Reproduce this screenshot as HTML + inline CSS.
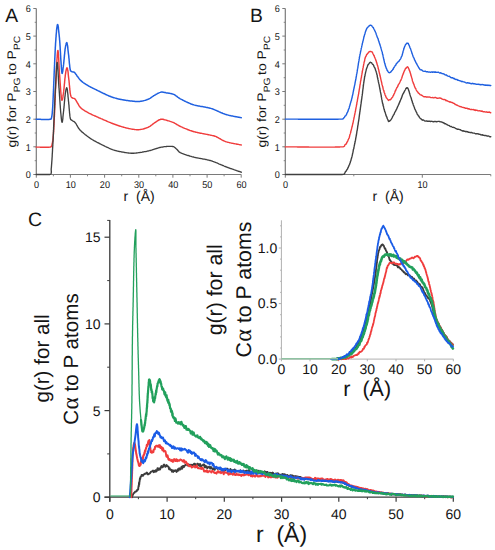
<!DOCTYPE html><html><head><meta charset="utf-8"><style>html,body{margin:0;padding:0;background:#fff;width:495px;height:550px;overflow:hidden}svg{display:block}text{font-family:"Liberation Sans",sans-serif;fill:#141414;text-rendering:geometricPrecision}</style></head><body>
<svg width="495" height="550" viewBox="0 0 495 550">
<rect width="495" height="550" fill="#fff"/>
<line x1="36.3" y1="8.5" x2="36.3" y2="175.1" stroke="#7a7a7a" stroke-width="1.20"/>
<line x1="33.3" y1="174.5" x2="36.3" y2="174.5" stroke="#7a7a7a" stroke-width="1.00"/>
<text transform="translate(30.70,178.30) scale(0.930,1)" font-size="9.80" text-anchor="end" >0</text>
<line x1="33.3" y1="146.8" x2="36.3" y2="146.8" stroke="#7a7a7a" stroke-width="1.00"/>
<text transform="translate(30.70,150.63) scale(0.930,1)" font-size="9.80" text-anchor="end" >1</text>
<line x1="33.3" y1="119.2" x2="36.3" y2="119.2" stroke="#7a7a7a" stroke-width="1.00"/>
<text transform="translate(30.70,122.96) scale(0.930,1)" font-size="9.80" text-anchor="end" >2</text>
<line x1="33.3" y1="91.5" x2="36.3" y2="91.5" stroke="#7a7a7a" stroke-width="1.00"/>
<text transform="translate(30.70,95.29) scale(0.930,1)" font-size="9.80" text-anchor="end" >3</text>
<line x1="33.3" y1="63.8" x2="36.3" y2="63.8" stroke="#7a7a7a" stroke-width="1.00"/>
<text transform="translate(30.70,67.62) scale(0.930,1)" font-size="9.80" text-anchor="end" >4</text>
<line x1="33.3" y1="36.1" x2="36.3" y2="36.1" stroke="#7a7a7a" stroke-width="1.00"/>
<text transform="translate(30.70,39.95) scale(0.930,1)" font-size="9.80" text-anchor="end" >5</text>
<line x1="33.3" y1="8.5" x2="36.3" y2="8.5" stroke="#7a7a7a" stroke-width="1.00"/>
<text transform="translate(30.70,12.28) scale(0.930,1)" font-size="9.80" text-anchor="end" >6</text>
<line x1="34.7" y1="160.7" x2="36.3" y2="160.7" stroke="#7a7a7a" stroke-width="0.90"/>
<line x1="34.7" y1="133.0" x2="36.3" y2="133.0" stroke="#7a7a7a" stroke-width="0.90"/>
<line x1="34.7" y1="105.3" x2="36.3" y2="105.3" stroke="#7a7a7a" stroke-width="0.90"/>
<line x1="34.7" y1="77.7" x2="36.3" y2="77.7" stroke="#7a7a7a" stroke-width="0.90"/>
<line x1="34.7" y1="50.0" x2="36.3" y2="50.0" stroke="#7a7a7a" stroke-width="0.90"/>
<line x1="34.7" y1="22.3" x2="36.3" y2="22.3" stroke="#7a7a7a" stroke-width="0.90"/>
<line x1="35.7" y1="174.5" x2="241.2" y2="174.5" stroke="#7a7a7a" stroke-width="1.20"/>
<line x1="36.3" y1="174.5" x2="36.3" y2="177.7" stroke="#7a7a7a" stroke-width="1.00"/>
<line x1="53.4" y1="174.5" x2="53.4" y2="176.3" stroke="#7a7a7a" stroke-width="0.90"/>
<line x1="70.4" y1="174.5" x2="70.4" y2="177.7" stroke="#7a7a7a" stroke-width="1.00"/>
<line x1="87.5" y1="174.5" x2="87.5" y2="176.3" stroke="#7a7a7a" stroke-width="0.90"/>
<line x1="104.6" y1="174.5" x2="104.6" y2="177.7" stroke="#7a7a7a" stroke-width="1.00"/>
<line x1="121.7" y1="174.5" x2="121.7" y2="176.3" stroke="#7a7a7a" stroke-width="0.90"/>
<line x1="138.8" y1="174.5" x2="138.8" y2="177.7" stroke="#7a7a7a" stroke-width="1.00"/>
<line x1="155.8" y1="174.5" x2="155.8" y2="176.3" stroke="#7a7a7a" stroke-width="0.90"/>
<line x1="172.9" y1="174.5" x2="172.9" y2="177.7" stroke="#7a7a7a" stroke-width="1.00"/>
<line x1="190.0" y1="174.5" x2="190.0" y2="176.3" stroke="#7a7a7a" stroke-width="0.90"/>
<line x1="207.1" y1="174.5" x2="207.1" y2="177.7" stroke="#7a7a7a" stroke-width="1.00"/>
<line x1="224.1" y1="174.5" x2="224.1" y2="176.3" stroke="#7a7a7a" stroke-width="0.90"/>
<line x1="241.2" y1="174.5" x2="241.2" y2="177.7" stroke="#7a7a7a" stroke-width="1.00"/>
<text transform="translate(36.60,187.60) scale(0.930,1)" font-size="9.80" text-anchor="middle" >0</text>
<text transform="translate(70.75,187.60) scale(0.930,1)" font-size="9.80" text-anchor="middle" >10</text>
<text transform="translate(104.90,187.60) scale(0.930,1)" font-size="9.80" text-anchor="middle" >20</text>
<text transform="translate(139.05,187.60) scale(0.930,1)" font-size="9.80" text-anchor="middle" >30</text>
<text transform="translate(173.20,187.60) scale(0.930,1)" font-size="9.80" text-anchor="middle" >40</text>
<text transform="translate(207.35,187.60) scale(0.930,1)" font-size="9.80" text-anchor="middle" >50</text>
<text transform="translate(241.50,187.60) scale(0.930,1)" font-size="9.80" text-anchor="middle" >60</text>
<text x="5.3" y="21.8" font-size="19.30" text-anchor="start" >A</text>
<line x1="285.3" y1="8.5" x2="285.3" y2="175.1" stroke="#7a7a7a" stroke-width="1.20"/>
<line x1="282.3" y1="174.5" x2="285.3" y2="174.5" stroke="#7a7a7a" stroke-width="1.00"/>
<text transform="translate(279.70,178.30) scale(0.930,1)" font-size="9.80" text-anchor="end" >0</text>
<line x1="282.3" y1="146.8" x2="285.3" y2="146.8" stroke="#7a7a7a" stroke-width="1.00"/>
<text transform="translate(279.70,150.63) scale(0.930,1)" font-size="9.80" text-anchor="end" >1</text>
<line x1="282.3" y1="119.2" x2="285.3" y2="119.2" stroke="#7a7a7a" stroke-width="1.00"/>
<text transform="translate(279.70,122.96) scale(0.930,1)" font-size="9.80" text-anchor="end" >2</text>
<line x1="282.3" y1="91.5" x2="285.3" y2="91.5" stroke="#7a7a7a" stroke-width="1.00"/>
<text transform="translate(279.70,95.29) scale(0.930,1)" font-size="9.80" text-anchor="end" >3</text>
<line x1="282.3" y1="63.8" x2="285.3" y2="63.8" stroke="#7a7a7a" stroke-width="1.00"/>
<text transform="translate(279.70,67.62) scale(0.930,1)" font-size="9.80" text-anchor="end" >4</text>
<line x1="282.3" y1="36.1" x2="285.3" y2="36.1" stroke="#7a7a7a" stroke-width="1.00"/>
<text transform="translate(279.70,39.95) scale(0.930,1)" font-size="9.80" text-anchor="end" >5</text>
<line x1="282.3" y1="8.5" x2="285.3" y2="8.5" stroke="#7a7a7a" stroke-width="1.00"/>
<text transform="translate(279.70,12.28) scale(0.930,1)" font-size="9.80" text-anchor="end" >6</text>
<line x1="283.7" y1="160.7" x2="285.3" y2="160.7" stroke="#7a7a7a" stroke-width="0.90"/>
<line x1="283.7" y1="133.0" x2="285.3" y2="133.0" stroke="#7a7a7a" stroke-width="0.90"/>
<line x1="283.7" y1="105.3" x2="285.3" y2="105.3" stroke="#7a7a7a" stroke-width="0.90"/>
<line x1="283.7" y1="77.7" x2="285.3" y2="77.7" stroke="#7a7a7a" stroke-width="0.90"/>
<line x1="283.7" y1="50.0" x2="285.3" y2="50.0" stroke="#7a7a7a" stroke-width="0.90"/>
<line x1="283.7" y1="22.3" x2="285.3" y2="22.3" stroke="#7a7a7a" stroke-width="0.90"/>
<line x1="284.7" y1="174.5" x2="490.8" y2="174.5" stroke="#7a7a7a" stroke-width="1.20"/>
<line x1="285.3" y1="174.5" x2="285.3" y2="177.7" stroke="#7a7a7a" stroke-width="1.00"/>
<line x1="353.8" y1="174.5" x2="353.8" y2="176.3" stroke="#7a7a7a" stroke-width="0.90"/>
<line x1="422.3" y1="174.5" x2="422.3" y2="177.7" stroke="#7a7a7a" stroke-width="1.00"/>
<line x1="490.8" y1="174.5" x2="490.8" y2="176.3" stroke="#7a7a7a" stroke-width="0.90"/>
<text transform="translate(285.60,187.60) scale(0.930,1)" font-size="9.80" text-anchor="middle" >0</text>
<text transform="translate(422.60,187.60) scale(0.930,1)" font-size="9.80" text-anchor="middle" >10</text>
<text x="250.0" y="21.8" font-size="19.30" text-anchor="start" >B</text>
<text transform="translate(16.4,147.6) rotate(-90) scale(1.13,1)" font-size="12.4" text-anchor="start">g(r) for P<tspan font-size="9.1" dy="3.6">PG</tspan><tspan dy="-3.6" dx="-1.2"> to P</tspan><tspan font-size="9.1" dy="3.6">PC</tspan></text>
<text transform="translate(266.2,147.6) rotate(-90) scale(1.13,1)" font-size="12.4" text-anchor="start">g(r) for P<tspan font-size="9.1" dy="3.6">PG</tspan><tspan dy="-3.6" dx="-1.2"> to P</tspan><tspan font-size="9.1" dy="3.6">PC</tspan></text>
<text x="123.6" y="201.3" font-size="14.00" text-anchor="start" >r&#160;&#160;(Å)</text>
<text x="372.6" y="201.3" font-size="14.00" text-anchor="start" >r&#160;&#160;(Å)</text>
<path d="M36.1 147.1L36.8 147.1L37.5 147.1L38.3 147.1L39.0 147.1L39.8 147.1L40.5 147.2L41.2 147.2L42.0 147.2L42.7 147.2L43.5 147.2L44.2 147.2L44.9 147.2L45.7 147.2L46.4 147.2L47.1 147.2L47.7 147.2L48.4 147.2L49.0 147.2L49.6 147.1L50.2 147.1L51.2 146.8L51.5 146.0L51.7 145.5L51.9 144.9L52.0 144.3L52.2 143.7L52.4 143.1L52.5 142.4L52.6 141.7L52.8 140.9L52.9 140.0L53.0 139.0L53.1 138.4L53.1 137.8L53.2 137.2L53.2 136.6L53.3 135.9L53.3 135.3L53.4 134.6L53.4 134.0L53.5 133.3L53.5 132.7L53.6 132.0L53.6 131.3L53.6 130.6L53.7 129.9L53.7 129.2L53.8 128.5L53.8 127.8L53.8 127.0L53.9 126.3L53.9 125.6L54.0 124.8L54.0 124.1L54.0 123.3L54.1 122.6L54.1 121.8L54.1 121.1L54.2 120.3L54.2 119.5L54.3 118.8L54.3 118.0L54.3 117.3L54.4 116.7L54.4 116.0L54.4 115.3L54.5 114.7L54.5 114.0L54.5 113.3L54.6 112.6L54.6 111.9L54.6 111.2L54.6 110.6L54.7 109.9L54.7 109.2L54.7 108.5L54.8 107.8L54.8 107.1L54.8 106.4L54.8 105.6L54.9 104.9L54.9 104.2L54.9 103.5L54.9 102.8L55.0 102.1L55.0 101.3L55.0 100.6L55.1 99.9L55.1 99.2L55.1 98.4L55.2 97.7L55.2 97.0L55.2 96.2L55.2 95.5L55.3 94.8L55.3 94.0L55.3 93.3L55.4 92.5L55.4 91.8L55.4 91.0L55.5 90.3L55.5 89.5L55.6 88.8L55.6 88.0L55.6 87.3L55.7 86.6L55.7 85.9L55.7 85.1L55.8 84.4L55.8 83.6L55.9 82.8L55.9 82.0L55.9 81.1L56.0 80.3L56.0 79.4L56.0 78.6L56.1 77.7L56.1 76.8L56.2 75.9L56.2 75.1L56.3 74.2L56.3 73.3L56.3 72.4L56.4 71.5L56.4 70.6L56.5 69.7L56.5 68.8L56.5 67.9L56.6 67.0L56.6 66.2L56.7 65.3L56.7 64.5L56.8 63.6L56.8 62.8L56.8 62.0L56.9 61.2L56.9 60.5L57.0 59.7L57.0 59.0L57.1 58.3L57.1 57.6L57.2 56.9L57.2 56.3L57.2 55.6L57.3 55.0L57.3 54.5L57.4 54.0L57.4 53.5L57.5 53.0L57.5 52.6L57.5 52.2L57.6 51.8L57.6 51.5L57.7 51.2L57.7 51.0L57.8 50.8L57.8 50.6L57.9 50.5L57.9 50.5L58.0 50.5L58.0 50.7L58.1 51.0L58.1 51.3L58.2 51.7L58.2 52.2L58.3 52.8L58.3 53.4L58.4 54.1L58.4 54.9L58.5 55.6L58.5 56.5L58.6 57.3L58.7 58.3L58.7 59.2L58.8 60.2L58.8 61.1L58.9 62.1L58.9 63.1L59.0 64.2L59.0 65.2L59.1 66.2L59.1 67.2L59.2 68.2L59.2 69.1L59.3 70.1L59.3 71.0L59.4 71.9L59.4 72.7L59.5 73.5L59.5 74.3L59.6 75.0L59.7 75.8L59.7 76.5L59.8 77.3L59.8 78.0L59.9 78.8L59.9 79.5L60.0 80.3L60.0 81.0L60.1 81.8L60.1 82.5L60.2 83.2L60.2 84.0L60.3 84.7L60.3 85.4L60.4 86.1L60.4 86.8L60.5 87.5L60.5 88.2L60.6 88.9L60.6 89.6L60.7 90.2L60.7 90.9L60.8 91.5L60.8 92.2L60.9 92.8L60.9 93.4L61.0 94.0L61.1 95.0L61.2 96.1L61.3 97.1L61.5 98.0L61.6 98.8L61.7 99.5L61.8 100.0L62.0 100.3L62.1 100.3L62.2 100.1L62.3 99.8L62.5 99.4L62.6 98.8L62.7 98.1L62.9 97.4L63.0 96.5L63.1 95.7L63.2 94.7L63.4 93.8L63.5 92.9L63.6 92.0L63.7 91.4L63.8 90.7L63.8 90.0L63.9 89.3L64.0 88.6L64.1 87.9L64.1 87.1L64.2 86.4L64.3 85.6L64.3 84.9L64.4 84.1L64.5 83.3L64.6 82.6L64.6 81.8L64.7 81.0L64.8 80.3L64.8 79.5L64.9 78.8L65.0 78.0L65.1 77.3L65.2 76.6L65.2 75.9L65.3 75.3L65.4 74.6L65.5 74.0L65.7 73.0L65.8 71.9L66.0 70.9L66.2 70.0L66.4 69.1L66.6 68.4L66.8 68.0L67.0 67.8L67.2 67.9L67.3 68.2L67.4 68.5L67.5 69.0L67.6 69.5L67.8 70.2L67.9 70.9L68.0 71.6L68.1 72.4L68.2 73.2L68.2 74.1L68.3 75.0L68.4 75.8L68.5 76.7L68.6 77.6L68.7 78.4L68.8 79.2L68.9 80.0L69.0 80.7L69.1 81.4L69.1 82.1L69.2 82.8L69.3 83.5L69.3 84.3L69.4 85.0L69.5 85.8L69.6 86.5L69.6 87.2L69.7 88.0L69.8 88.7L69.8 89.4L69.9 90.1L70.0 90.8L70.1 91.5L70.1 92.2L70.2 92.8L70.3 93.4L70.4 94.0L70.6 95.1L70.8 95.9L71.1 96.6L71.4 97.1L71.8 97.6L72.4 98.0L73.2 98.2L74.1 98.4L74.8 98.8L75.2 99.3L75.6 99.8L76.0 100.4L76.4 101.1L76.7 101.7L77.1 102.4L77.5 103.0L77.9 103.6L78.2 104.2L78.6 104.9L78.9 105.5L79.3 106.1L79.8 106.7L80.2 107.3L80.8 107.9L81.3 108.3L81.8 108.8L82.4 109.2L83.0 109.6L83.6 110.0L84.2 110.4L84.8 110.8L85.4 111.1L86.1 111.5L86.7 111.9L87.4 112.2L88.0 112.6L88.6 112.9L89.2 113.3L89.9 113.6L90.5 113.9L91.1 114.2L91.7 114.5L92.4 114.8L93.0 115.1L93.7 115.4L94.4 115.7L95.2 116.0L96.0 116.4L96.6 116.7L97.2 116.9L97.8 117.2L98.4 117.5L99.1 117.8L99.7 118.1L100.4 118.3L101.0 118.6L101.7 118.9L102.4 119.2L103.0 119.5L103.7 119.8L104.4 120.1L105.1 120.4L105.8 120.7L106.5 121.0L107.2 121.3L107.8 121.6L108.5 121.9L109.2 122.2L109.8 122.4L110.5 122.7L111.2 123.0L111.8 123.2L112.5 123.5L113.2 123.8L113.9 124.0L114.6 124.3L115.3 124.5L116.0 124.8L116.7 125.0L117.4 125.3L118.1 125.5L118.8 125.8L119.5 126.0L120.2 126.2L120.9 126.4L121.5 126.6L122.2 126.9L122.9 127.0L123.6 127.2L124.3 127.4L125.0 127.6L125.7 127.8L126.4 128.0L127.2 128.1L127.9 128.3L128.6 128.5L129.4 128.6L130.1 128.8L130.9 128.9L131.6 129.1L132.3 129.2L133.1 129.3L133.8 129.4L134.5 129.5L135.2 129.6L135.9 129.6L136.6 129.7L137.3 129.7L138.0 129.7L138.8 129.7L139.5 129.6L140.3 129.5L141.0 129.4L141.8 129.3L142.5 129.1L143.2 129.0L144.0 128.8L144.7 128.5L145.3 128.3L146.0 128.1L146.7 127.8L147.4 127.6L148.0 127.3L148.7 127.0L149.3 126.6L149.9 126.3L150.5 125.9L151.1 125.4L151.7 125.0L152.2 124.6L152.8 124.1L153.3 123.7L153.9 123.3L154.4 122.9L155.0 122.5L155.7 122.1L156.3 121.6L157.0 121.2L157.6 120.8L158.2 120.4L158.9 120.0L159.5 119.7L160.2 119.5L160.8 119.3L161.5 119.2L162.3 119.2L163.0 119.3L163.7 119.5L164.4 119.7L165.2 119.9L166.0 120.1L166.7 120.3L167.3 120.5L168.0 120.7L168.8 120.9L169.5 121.1L170.2 121.4L170.9 121.6L171.6 121.9L172.3 122.1L173.0 122.4L173.7 122.7L174.4 123.0L175.0 123.4L175.6 123.7L176.2 124.1L176.8 124.5L177.5 124.9L178.1 125.2L178.8 125.6L179.5 126.0L180.3 126.4L180.9 126.7L181.5 126.9L182.1 127.2L182.8 127.5L183.4 127.8L184.1 128.1L184.7 128.4L185.4 128.6L186.1 128.9L186.8 129.2L187.5 129.5L188.2 129.8L188.9 130.0L189.6 130.3L190.3 130.6L191.1 130.8L191.8 131.0L192.5 131.3L193.3 131.5L194.0 131.7L194.6 131.9L195.3 132.0L196.0 132.2L196.7 132.4L197.4 132.5L198.2 132.7L198.9 132.9L199.6 133.0L200.4 133.2L201.1 133.3L201.9 133.4L202.6 133.6L203.3 133.7L204.1 133.9L204.8 134.0L205.5 134.1L206.2 134.3L206.9 134.4L207.6 134.5L208.3 134.7L208.9 134.8L209.6 134.9L210.2 135.1L210.8 135.2L211.7 135.4L212.5 135.6L213.2 135.7L213.7 135.8L214.3 136.0L214.9 136.2L215.5 136.4L216.2 136.7L216.8 137.0L217.4 137.3L218.0 137.6L218.6 137.9L219.2 138.3L219.8 138.6L220.5 139.0L221.1 139.4L221.8 139.8L222.4 140.1L223.1 140.5L223.8 140.8L224.5 141.1L225.2 141.4L226.0 141.7L226.6 141.9L227.3 142.1L227.9 142.3L228.6 142.4L229.3 142.6L229.9 142.8L230.6 142.9L231.3 143.1L232.0 143.2L232.7 143.4L233.4 143.5L234.2 143.6L234.9 143.8L235.6 143.9L236.3 144.0L237.0 144.2L237.8 144.3L238.5 144.4L239.2 144.6L239.9 144.7L240.6 144.9L241.3 145.0" fill="none" stroke="#f03c3c" stroke-width="1.45" stroke-linejoin="round" stroke-linecap="round" opacity="1.00"/>
<path d="M36.1 119.3L36.8 119.3L37.5 119.3L38.3 119.3L39.0 119.3L39.8 119.3L40.5 119.3L41.3 119.4L42.0 119.4L42.8 119.4L43.5 119.4L44.3 119.4L45.0 119.4L45.7 119.4L46.4 119.4L47.1 119.4L47.8 119.4L48.5 119.4L49.1 119.4L49.7 119.3L50.3 119.3L51.2 119.1L51.4 118.3L51.5 117.7L51.7 117.1L51.8 116.4L51.9 115.8L52.0 115.1L52.1 114.4L52.2 113.6L52.3 112.8L52.3 111.9L52.4 111.0L52.5 110.0L52.5 109.4L52.6 108.7L52.6 108.1L52.7 107.4L52.7 106.8L52.8 106.1L52.8 105.4L52.8 104.7L52.9 104.0L52.9 103.3L52.9 102.6L53.0 101.9L53.0 101.1L53.0 100.4L53.1 99.7L53.1 98.9L53.1 98.2L53.2 97.4L53.2 96.7L53.2 96.0L53.3 95.2L53.3 94.5L53.3 93.7L53.4 93.0L53.4 92.2L53.4 91.5L53.5 90.7L53.5 90.0L53.5 89.3L53.6 88.6L53.6 87.9L53.6 87.2L53.6 86.5L53.7 85.9L53.7 85.2L53.7 84.5L53.8 83.8L53.8 83.1L53.8 82.4L53.8 81.7L53.9 81.0L53.9 80.3L53.9 79.6L53.9 78.9L54.0 78.2L54.0 77.5L54.0 76.8L54.1 76.1L54.1 75.4L54.1 74.6L54.1 73.9L54.2 73.2L54.2 72.5L54.2 71.7L54.3 71.0L54.3 70.3L54.3 69.5L54.4 68.8L54.4 68.0L54.4 67.3L54.5 66.7L54.5 66.0L54.5 65.3L54.6 64.6L54.6 63.9L54.6 63.2L54.6 62.5L54.7 61.8L54.7 61.1L54.7 60.3L54.8 59.6L54.8 58.9L54.8 58.2L54.9 57.4L54.9 56.7L54.9 56.0L55.0 55.3L55.0 54.5L55.0 53.8L55.1 53.1L55.1 52.3L55.1 51.6L55.2 50.9L55.2 50.2L55.2 49.5L55.3 48.7L55.3 48.0L55.3 47.3L55.4 46.6L55.4 45.9L55.5 45.3L55.5 44.6L55.5 43.9L55.6 43.2L55.6 42.6L55.7 41.9L55.7 41.3L55.8 40.6L55.8 40.0L55.9 39.1L55.9 38.2L56.0 37.3L56.1 36.4L56.1 35.4L56.2 34.5L56.3 33.5L56.4 32.6L56.5 31.7L56.5 30.8L56.6 29.9L56.7 29.1L56.8 28.3L56.9 27.6L57.0 26.9L57.1 26.3L57.2 25.8L57.2 25.3L57.3 25.0L57.4 24.7L57.5 24.6L57.6 24.5L57.7 24.6L57.8 24.7L57.9 25.0L58.0 25.4L58.1 25.9L58.2 26.4L58.3 27.0L58.4 27.7L58.4 28.5L58.5 29.3L58.6 30.1L58.7 31.0L58.8 31.9L58.9 32.8L59.0 33.8L59.1 34.7L59.2 35.6L59.3 36.6L59.4 37.5L59.5 38.4L59.5 39.2L59.6 40.0L59.7 40.7L59.7 41.3L59.8 42.0L59.8 42.7L59.9 43.4L59.9 44.1L60.0 44.8L60.0 45.6L60.1 46.3L60.1 47.0L60.2 47.8L60.2 48.5L60.2 49.3L60.3 50.0L60.3 50.7L60.4 51.5L60.4 52.2L60.5 53.0L60.5 53.7L60.5 54.4L60.6 55.2L60.6 55.9L60.7 56.6L60.7 57.3L60.7 58.0L60.8 58.7L60.8 59.4L60.9 60.1L60.9 60.7L61.0 61.4L61.0 62.0L61.1 62.9L61.1 63.8L61.2 64.8L61.3 65.7L61.3 66.6L61.4 67.6L61.4 68.5L61.5 69.3L61.6 70.1L61.6 70.9L61.7 71.5L61.8 72.1L61.9 72.6L61.9 73.0L62.0 73.3L62.1 73.5L62.2 73.5L62.3 73.3L62.4 72.9L62.5 72.3L62.7 71.6L62.8 70.7L62.9 69.8L63.0 68.9L63.1 67.9L63.3 66.9L63.4 65.9L63.5 65.0L63.6 64.4L63.7 63.7L63.7 63.0L63.8 62.3L63.9 61.6L63.9 60.9L64.0 60.2L64.1 59.4L64.2 58.7L64.2 57.9L64.3 57.2L64.4 56.4L64.4 55.7L64.5 54.9L64.6 54.2L64.7 53.4L64.7 52.7L64.8 52.0L64.9 51.2L65.0 50.6L65.0 49.9L65.1 49.2L65.2 48.6L65.3 48.0L65.5 46.8L65.7 45.6L66.0 44.5L66.2 43.5L66.5 42.9L66.7 42.6L66.9 42.7L67.0 43.0L67.1 43.4L67.2 43.9L67.3 44.5L67.4 45.1L67.6 45.8L67.7 46.6L67.8 47.4L67.8 48.2L67.9 49.0L68.0 49.9L68.1 50.8L68.2 51.7L68.3 52.6L68.4 53.4L68.5 54.2L68.6 55.0L68.7 55.7L68.8 56.4L68.8 57.2L68.9 57.9L69.0 58.7L69.1 59.4L69.1 60.2L69.2 61.0L69.3 61.8L69.3 62.5L69.4 63.3L69.5 64.0L69.6 64.8L69.7 65.5L69.7 66.2L69.8 66.9L69.9 67.6L70.0 68.3L70.1 68.9L70.2 69.5L70.5 70.7L71.0 71.2L71.6 71.6L72.2 71.8L73.0 71.9L73.7 72.0L74.4 72.4L74.9 72.8L75.3 73.4L75.7 74.0L76.2 74.6L76.6 75.2L77.0 75.9L77.5 76.5L78.0 77.1L78.4 77.7L78.9 78.3L79.3 78.9L79.8 79.5L80.4 80.1L80.9 80.7L81.5 81.2L82.0 81.6L82.6 82.1L83.1 82.5L83.7 82.9L84.3 83.3L84.9 83.7L85.5 84.1L86.1 84.5L86.7 84.8L87.4 85.2L88.0 85.6L88.6 86.0L89.2 86.3L89.8 86.6L90.4 87.0L91.1 87.3L91.7 87.6L92.3 87.9L93.0 88.3L93.7 88.6L94.4 88.9L95.2 89.3L96.0 89.7L96.6 90.0L97.2 90.3L97.8 90.6L98.4 90.9L99.1 91.2L99.7 91.5L100.3 91.8L101.0 92.2L101.7 92.5L102.3 92.8L103.0 93.2L103.7 93.5L104.4 93.8L105.1 94.1L105.8 94.5L106.4 94.8L107.1 95.1L107.8 95.4L108.5 95.7L109.2 96.0L109.8 96.2L110.5 96.5L111.2 96.8L111.8 97.0L112.5 97.3L113.2 97.5L113.9 97.7L114.6 97.9L115.3 98.1L116.0 98.3L116.7 98.5L117.4 98.7L118.1 98.9L118.8 99.0L119.4 99.2L120.1 99.3L120.8 99.5L121.5 99.6L122.2 99.7L122.9 99.8L123.6 100.0L124.3 100.1L125.0 100.2L125.7 100.3L126.4 100.4L127.1 100.5L127.8 100.6L128.5 100.7L129.2 100.8L130.0 100.9L130.7 101.0L131.4 101.1L132.1 101.1L132.8 101.2L133.6 101.3L134.3 101.3L135.0 101.4L135.7 101.4L136.4 101.4L137.0 101.4L137.7 101.4L138.4 101.4L139.0 101.4L139.8 101.4L140.5 101.3L141.3 101.2L142.0 101.1L142.7 100.9L143.4 100.8L144.1 100.6L144.8 100.4L145.4 100.2L146.1 100.0L146.7 99.8L147.4 99.5L148.0 99.3L148.7 99.0L149.4 98.6L150.0 98.3L150.7 97.9L151.3 97.4L151.9 97.0L152.5 96.6L153.2 96.2L153.8 95.7L154.4 95.4L155.0 95.0L155.7 94.6L156.3 94.2L157.0 93.9L157.6 93.5L158.2 93.2L158.9 92.9L159.5 92.6L160.2 92.4L160.8 92.2L161.5 92.1L162.3 92.1L163.0 92.2L163.7 92.3L164.4 92.5L165.2 92.6L166.0 92.8L166.7 92.9L167.3 93.0L168.0 93.1L168.8 93.2L169.5 93.3L170.2 93.4L170.9 93.6L171.6 93.7L172.4 93.9L173.0 94.1L173.7 94.4L174.3 94.7L174.9 95.0L175.5 95.4L176.0 95.8L176.6 96.2L177.1 96.6L177.7 97.1L178.3 97.5L178.9 98.0L179.6 98.4L180.3 98.8L180.9 99.1L181.4 99.4L182.0 99.7L182.6 100.0L183.2 100.3L183.9 100.7L184.5 101.0L185.1 101.3L185.8 101.6L186.4 101.9L187.1 102.2L187.7 102.5L188.4 102.8L189.1 103.1L189.8 103.4L190.5 103.7L191.2 104.0L191.9 104.2L192.6 104.5L193.3 104.7L193.9 104.9L194.6 105.1L195.3 105.3L196.0 105.4L196.6 105.6L197.3 105.7L198.0 105.9L198.7 106.0L199.5 106.1L200.2 106.3L200.9 106.4L201.6 106.5L202.3 106.6L203.1 106.7L203.8 106.9L204.5 107.0L205.2 107.1L205.9 107.3L206.6 107.4L207.4 107.5L208.1 107.7L208.8 107.9L209.4 108.0L210.1 108.2L210.8 108.4L211.5 108.6L212.2 108.8L212.9 109.1L213.5 109.3L214.2 109.6L214.9 109.9L215.5 110.2L216.2 110.4L216.8 110.7L217.5 111.0L218.1 111.3L218.8 111.6L219.4 111.9L220.1 112.2L220.7 112.5L221.4 112.8L222.0 113.0L222.7 113.3L223.3 113.6L224.0 113.8L224.7 114.1L225.3 114.3L226.0 114.5L226.7 114.7L227.4 114.9L228.1 115.1L228.8 115.3L229.4 115.4L230.1 115.6L230.8 115.7L231.5 115.9L232.2 116.0L232.9 116.1L233.6 116.3L234.3 116.4L235.0 116.5L235.7 116.7L236.4 116.8L237.1 116.9L237.8 117.0L238.5 117.2L239.2 117.3L239.9 117.4L240.6 117.6L241.3 117.7" fill="none" stroke="#1f60e0" stroke-width="1.50" stroke-linejoin="round" stroke-linecap="round" opacity="1.00"/>
<path d="M36.1 174.5L36.8 174.5L37.6 174.5L38.4 174.5L39.2 174.5L40.0 174.5L40.8 174.5L41.6 174.5L42.5 174.5L43.3 174.5L44.1 174.5L44.8 174.5L45.6 174.5L46.3 174.5L47.0 174.5L47.7 174.5L48.4 174.5L49.0 174.5L49.5 174.5L50.0 174.5L50.6 174.2L51.0 173.7L51.2 173.2L51.3 172.6L51.3 171.8L51.3 171.0L51.2 170.1L51.2 169.1L51.3 168.0L51.4 167.4L51.4 166.8L51.5 166.2L51.5 165.5L51.6 164.9L51.6 164.2L51.7 163.5L51.7 162.9L51.8 162.2L51.8 161.5L51.9 160.8L51.9 160.1L52.0 159.4L52.0 158.7L52.1 157.9L52.1 157.2L52.2 156.5L52.2 155.7L52.2 155.0L52.3 154.2L52.3 153.5L52.4 152.7L52.4 151.9L52.5 151.2L52.5 150.4L52.5 149.6L52.6 148.9L52.6 148.1L52.7 147.3L52.7 146.5L52.8 145.8L52.8 145.0L52.8 144.3L52.9 143.6L52.9 143.0L52.9 142.3L53.0 141.6L53.0 140.9L53.1 140.2L53.1 139.5L53.1 138.8L53.2 138.1L53.2 137.4L53.2 136.7L53.3 136.0L53.3 135.3L53.3 134.5L53.4 133.8L53.4 133.1L53.4 132.4L53.5 131.7L53.5 130.9L53.5 130.2L53.6 129.5L53.6 128.8L53.6 128.0L53.6 127.3L53.7 126.6L53.7 125.9L53.7 125.1L53.8 124.4L53.8 123.7L53.8 122.9L53.9 122.2L53.9 121.5L53.9 120.8L54.0 120.0L54.0 119.3L54.0 118.6L54.1 117.9L54.1 117.2L54.1 116.4L54.2 115.7L54.2 115.0L54.2 114.3L54.3 113.6L54.3 112.8L54.3 112.1L54.4 111.4L54.4 110.7L54.4 110.0L54.5 109.2L54.5 108.5L54.5 107.8L54.6 107.0L54.6 106.3L54.6 105.6L54.7 104.9L54.7 104.1L54.7 103.4L54.7 102.7L54.8 101.9L54.8 101.2L54.8 100.5L54.9 99.8L54.9 99.0L54.9 98.3L55.0 97.6L55.0 96.9L55.0 96.2L55.1 95.4L55.1 94.7L55.1 94.0L55.2 93.3L55.2 92.6L55.2 91.9L55.3 91.2L55.3 90.5L55.3 89.8L55.4 89.1L55.4 88.4L55.5 87.7L55.5 87.0L55.5 86.3L55.6 85.7L55.6 85.0L55.6 84.2L55.7 83.4L55.7 82.5L55.8 81.7L55.8 80.8L55.9 79.8L55.9 78.9L56.0 78.0L56.0 77.0L56.1 76.0L56.1 75.1L56.2 74.1L56.2 73.2L56.3 72.3L56.3 71.4L56.4 70.5L56.4 69.6L56.5 68.8L56.5 68.0L56.6 67.2L56.6 66.5L56.7 65.8L56.7 65.2L56.8 64.6L56.8 64.1L56.9 63.6L56.9 63.2L57.0 62.9L57.0 62.7L57.1 62.5L57.1 62.4L57.2 62.4L57.2 62.5L57.3 62.6L57.3 62.9L57.4 63.1L57.4 63.5L57.5 63.9L57.5 64.3L57.6 64.9L57.6 65.4L57.7 66.0L57.7 66.7L57.8 67.4L57.8 68.1L57.9 68.9L57.9 69.7L58.0 70.5L58.0 71.3L58.1 72.2L58.1 73.1L58.2 74.0L58.2 74.9L58.3 75.8L58.3 76.8L58.4 77.7L58.4 78.6L58.5 79.6L58.5 80.5L58.6 81.4L58.6 82.3L58.7 83.2L58.7 84.1L58.8 84.9L58.8 85.7L58.9 86.5L58.9 87.3L59.0 88.0L59.1 88.7L59.1 89.4L59.2 90.2L59.2 90.9L59.3 91.7L59.3 92.4L59.4 93.1L59.4 93.9L59.5 94.6L59.5 95.4L59.6 96.1L59.6 96.9L59.7 97.6L59.7 98.4L59.8 99.1L59.8 99.9L59.9 100.6L59.9 101.4L60.0 102.1L60.0 102.8L60.1 103.6L60.1 104.3L60.2 105.0L60.2 105.7L60.3 106.4L60.3 107.1L60.4 107.8L60.4 108.5L60.5 109.2L60.5 109.8L60.6 110.5L60.6 111.1L60.7 111.8L60.7 112.4L60.8 113.0L60.9 114.0L61.0 115.0L61.1 116.1L61.2 117.1L61.3 118.1L61.4 119.0L61.5 119.8L61.6 120.6L61.7 121.2L61.8 121.7L61.9 122.1L62.0 122.3L62.1 122.3L62.2 122.2L62.3 121.9L62.4 121.5L62.5 121.0L62.6 120.4L62.7 119.7L62.8 119.0L62.9 118.1L62.9 117.3L63.0 116.4L63.1 115.5L63.2 114.5L63.3 113.6L63.4 112.7L63.5 111.8L63.6 111.0L63.7 110.3L63.7 109.7L63.8 109.0L63.9 108.2L64.0 107.5L64.0 106.8L64.1 106.0L64.2 105.3L64.2 104.5L64.3 103.7L64.4 103.0L64.4 102.2L64.5 101.4L64.6 100.7L64.6 99.9L64.7 99.2L64.8 98.4L64.8 97.7L64.9 97.0L65.0 96.3L65.1 95.6L65.2 94.9L65.2 94.2L65.3 93.6L65.4 93.0L65.6 91.8L65.8 90.6L66.0 89.5L66.3 88.6L66.5 87.9L66.7 87.7L66.9 87.9L67.0 88.2L67.1 88.6L67.2 89.1L67.3 89.6L67.4 90.2L67.5 90.8L67.5 91.5L67.6 92.3L67.7 93.0L67.8 93.8L67.9 94.6L68.0 95.5L68.0 96.3L68.1 97.1L68.2 98.0L68.3 98.8L68.4 99.7L68.4 100.5L68.5 101.2L68.6 102.0L68.7 102.7L68.7 103.4L68.8 104.1L68.9 104.9L69.0 105.6L69.0 106.4L69.1 107.1L69.1 107.9L69.2 108.7L69.3 109.4L69.3 110.2L69.4 111.0L69.5 111.7L69.5 112.5L69.6 113.2L69.7 113.9L69.8 114.6L69.8 115.3L69.9 116.0L70.0 116.7L70.1 117.3L70.2 117.9L70.3 118.5L70.7 119.6L71.3 119.9L72.0 120.3L72.5 120.7L73.1 121.1L73.7 121.4L74.3 121.8L74.8 122.3L75.4 122.9L75.8 123.4L76.1 123.9L76.5 124.5L76.8 125.1L77.2 125.8L77.5 126.4L77.9 127.0L78.2 127.7L78.6 128.3L79.1 128.9L79.6 129.5L80.0 130.0L80.5 130.5L81.0 130.9L81.5 131.4L82.0 131.9L82.5 132.4L83.1 132.8L83.6 133.3L84.2 133.8L84.8 134.2L85.3 134.7L85.9 135.1L86.5 135.6L87.0 136.0L87.6 136.4L88.1 136.8L88.7 137.2L89.3 137.6L89.8 138.0L90.4 138.4L90.9 138.8L91.5 139.1L92.1 139.5L92.7 139.8L93.3 140.2L93.9 140.6L94.6 140.9L95.3 141.3L96.0 141.7L96.6 142.0L97.1 142.3L97.7 142.6L98.3 142.9L98.9 143.2L99.6 143.6L100.2 143.9L100.8 144.2L101.5 144.5L102.1 144.9L102.8 145.2L103.5 145.5L104.1 145.8L104.8 146.2L105.4 146.5L106.1 146.8L106.8 147.1L107.4 147.4L108.1 147.7L108.7 148.0L109.4 148.3L110.0 148.6L110.6 148.8L111.2 149.1L111.8 149.3L112.5 149.6L113.3 149.9L114.0 150.1L114.7 150.3L115.3 150.5L116.0 150.7L116.7 150.9L117.3 151.1L118.0 151.2L118.6 151.4L119.3 151.5L119.9 151.6L120.6 151.7L121.3 151.9L122.0 152.0L122.7 152.1L123.4 152.2L124.1 152.4L124.8 152.5L125.5 152.6L126.2 152.7L126.9 152.8L127.7 152.9L128.4 153.0L129.1 153.1L129.8 153.1L130.6 153.2L131.3 153.2L132.1 153.2L132.8 153.2L133.6 153.2L134.3 153.2L135.0 153.1L135.7 153.1L136.4 153.0L137.1 152.9L137.8 152.8L138.6 152.7L139.3 152.6L140.0 152.5L140.7 152.4L141.5 152.3L142.2 152.2L142.9 152.0L143.7 151.9L144.4 151.7L145.1 151.6L145.9 151.5L146.6 151.3L147.3 151.2L148.0 151.0L148.7 150.8L149.4 150.7L150.1 150.5L150.8 150.3L151.5 150.1L152.2 149.9L153.0 149.6L153.7 149.4L154.4 149.2L155.1 149.0L155.8 148.7L156.5 148.5L157.2 148.3L157.8 148.1L158.5 147.9L159.2 147.7L159.9 147.5L160.6 147.4L161.2 147.2L161.9 147.1L162.7 147.0L163.4 146.8L164.2 146.7L165.0 146.6L165.7 146.6L166.5 146.5L167.2 146.4L167.9 146.4L168.7 146.3L169.4 146.3L170.1 146.3L170.7 146.3L171.4 146.4L172.0 146.4L172.6 146.5L173.5 146.7L174.2 147.0L174.8 147.5L175.4 148.0L175.9 148.5L176.5 149.0L177.0 149.5L177.5 150.0L177.9 150.5L178.3 151.1L178.8 151.6L179.5 152.1L180.3 152.6L180.9 152.9L181.4 153.1L182.0 153.4L182.7 153.6L183.3 153.9L183.9 154.1L184.6 154.4L185.3 154.6L186.0 154.8L186.7 155.1L187.4 155.3L188.1 155.5L188.8 155.7L189.6 156.0L190.3 156.2L191.1 156.4L191.8 156.6L192.6 156.8L193.3 157.0L194.0 157.2L194.6 157.3L195.3 157.5L196.0 157.6L196.7 157.8L197.4 157.9L198.1 158.1L198.8 158.2L199.5 158.3L200.2 158.4L200.9 158.6L201.6 158.7L202.4 158.8L203.1 159.0L203.8 159.1L204.5 159.2L205.2 159.4L205.9 159.5L206.7 159.7L207.4 159.8L208.1 160.0L208.8 160.1L209.4 160.3L210.1 160.5L210.8 160.7L211.5 160.9L212.2 161.1L212.9 161.4L213.5 161.6L214.2 161.9L214.9 162.1L215.5 162.4L216.2 162.7L216.9 162.9L217.5 163.2L218.2 163.5L218.8 163.8L219.5 164.1L220.1 164.3L220.8 164.6L221.4 164.9L222.1 165.2L222.7 165.5L223.4 165.7L224.0 166.0L224.7 166.3L225.3 166.5L226.0 166.8L226.7 167.0L227.3 167.3L228.0 167.5L228.7 167.8L229.3 168.0L230.0 168.3L230.6 168.5L231.3 168.7L232.0 169.0L232.6 169.2L233.3 169.4L234.0 169.7L234.6 169.9L235.3 170.1L236.0 170.3L236.6 170.6L237.3 170.8L238.0 171.0L238.6 171.3L239.3 171.5L240.0 171.7L240.6 172.0L241.3 172.2" fill="none" stroke="#404040" stroke-width="1.35" stroke-linejoin="round" stroke-linecap="round" opacity="1.00"/>
<path d="M285.3 174.5L286.0 174.5L286.7 174.5L287.4 174.5L288.1 174.5L288.9 174.5L289.6 174.5L290.3 174.5L291.0 174.5L291.8 174.5L292.5 174.5L293.2 174.5L293.9 174.5L294.7 174.5L295.4 174.5L296.2 174.5L296.9 174.5L297.6 174.5L298.4 174.5L299.1 174.5L299.8 174.5L300.6 174.5L301.3 174.5L302.1 174.5L302.8 174.5L303.6 174.5L304.3 174.5L305.1 174.5L305.8 174.5L306.5 174.5L307.3 174.5L308.0 174.5L308.8 174.5L309.5 174.5L310.3 174.5L311.0 174.5L311.7 174.5L312.5 174.5L313.2 174.5L313.9 174.5L314.7 174.5L315.4 174.5L316.1 174.5L316.9 174.5L317.6 174.5L318.3 174.5L319.1 174.5L319.8 174.5L320.5 174.5L321.2 174.5L321.9 174.5L322.7 174.5L323.4 174.5L324.1 174.5L324.8 174.5L325.5 174.5L326.2 174.5L326.9 174.5L327.6 174.5L328.3 174.5L328.9 174.5L329.6 174.5L330.3 174.5L331.0 174.5L331.7 174.5L332.3 174.5L333.0 174.5L333.7 174.5L334.3 174.5L335.0 174.5L335.6 174.5L336.2 174.5L336.9 174.5L337.5 174.5L338.1 174.5L338.8 174.5L339.4 174.5L340.0 174.5L340.6 174.5L341.2 174.5L341.8 174.5L343.6 174.3L344.4 174.1L344.6 173.6L344.7 173.1L345.0 172.6L345.4 171.7L345.9 171.1L346.3 171.0L346.7 170.0L347.1 169.3L347.5 169.1L347.8 168.0L348.2 167.5L348.5 166.7L348.8 166.2L349.0 165.2L349.3 164.9L349.6 164.4L349.8 163.5L350.1 163.0L350.3 162.3L350.5 161.2L350.8 160.9L351.0 160.1L351.2 159.2L351.4 158.4L351.5 158.3L351.7 157.4L351.9 156.9L352.0 156.4L352.2 155.6L352.4 155.0L352.5 153.9L352.7 153.5L352.8 152.6L353.0 152.2L353.1 151.5L353.3 150.2L353.4 149.5L353.6 148.9L353.8 148.7L353.9 147.7L354.0 147.1L354.2 146.2L354.3 145.6L354.5 144.8L354.6 144.1L354.8 143.5L354.9 142.8L355.0 142.3L355.2 141.5L355.3 140.9L355.5 140.2L355.6 139.5L355.7 138.6L355.9 137.5L356.0 137.3L356.1 136.6L356.2 135.9L356.4 135.0L356.5 134.5L356.6 133.5L356.7 133.3L356.8 132.4L356.9 131.6L357.0 130.7L357.1 130.6L357.3 130.0L357.4 128.7L357.5 128.5L357.6 127.5L357.7 126.6L357.8 125.9L357.9 125.4L358.1 124.7L358.2 123.3L358.3 123.1L358.4 122.0L358.5 121.8L358.6 120.9L358.7 120.6L358.8 120.0L358.9 119.0L359.0 118.7L359.1 117.5L359.2 116.6L359.3 116.3L359.4 115.1L359.5 114.5L359.6 114.0L359.7 113.4L359.8 112.3L359.9 111.5L360.0 111.4L360.1 110.2L360.2 110.0L360.3 109.2L360.4 108.1L360.5 107.4L360.6 106.7L360.7 106.1L360.8 105.3L360.9 104.5L361.0 103.9L361.1 103.4L361.2 102.4L361.3 101.6L361.4 101.1L361.5 100.1L361.6 99.4L361.7 99.2L361.8 98.2L361.9 97.5L362.0 96.4L362.1 95.9L362.2 95.3L362.3 94.2L362.4 93.9L362.5 93.1L362.6 92.0L362.6 91.7L362.7 90.8L362.8 90.3L362.9 89.3L363.0 88.9L363.1 88.2L363.2 87.0L363.3 86.3L363.3 86.0L363.4 85.5L363.5 84.4L363.6 83.8L363.7 83.2L363.8 82.4L363.9 81.8L364.0 81.1L364.1 80.4L364.2 80.0L364.3 79.1L364.4 78.5L364.5 78.2L364.6 76.8L364.8 76.4L365.0 75.7L365.1 74.6L365.3 73.7L365.4 73.4L365.6 72.3L365.8 71.5L365.9 71.0L366.1 70.4L366.3 69.4L366.5 68.8L366.7 68.2L366.9 67.9L367.1 67.1L367.3 66.7L367.7 65.4L368.1 64.7L368.5 64.2L369.0 63.8L369.4 63.0L369.9 62.5L370.4 62.2L370.9 62.6L371.5 62.7L372.1 63.6L372.6 64.3L373.1 64.5L373.6 65.3L373.9 66.3L374.2 66.8L374.5 67.5L374.8 67.9L375.1 68.4L375.3 69.2L375.6 70.3L375.8 70.6L376.1 71.4L376.3 72.2L376.5 72.9L376.7 73.6L376.9 74.6L377.0 74.8L377.2 75.3L377.3 76.7L377.5 77.3L377.6 78.1L377.8 78.4L377.9 79.4L378.1 80.1L378.2 80.4L378.3 81.4L378.5 82.2L378.6 82.8L378.8 83.3L378.9 83.9L379.1 84.6L379.2 85.2L379.3 85.8L379.5 86.8L379.6 87.3L379.7 88.4L379.9 88.5L380.0 89.8L380.2 90.4L380.3 91.2L380.4 91.9L380.6 92.6L380.7 93.1L380.8 93.4L381.0 94.6L381.1 94.9L381.2 95.7L381.3 96.6L381.4 97.2L381.6 97.8L381.7 98.9L381.8 99.4L381.9 99.9L382.1 100.5L382.2 101.7L382.4 102.1L382.5 103.1L382.7 103.5L382.9 104.0L383.0 105.0L383.2 105.8L383.4 106.1L383.6 107.2L383.8 108.0L383.9 108.6L384.1 109.4L384.3 109.5L384.5 110.6L384.7 111.5L384.9 111.6L385.2 112.5L385.4 113.1L385.6 114.0L385.8 114.5L386.0 115.2L386.2 116.0L386.4 116.1L386.8 117.1L387.1 118.1L387.5 119.0L387.9 119.8L388.3 121.0L388.7 121.4L389.1 121.0L389.5 121.2L390.0 120.8L390.5 120.2L391.0 119.6L391.5 118.9L392.0 118.0L392.5 116.9L392.8 116.2L393.1 115.8L393.4 115.1L393.7 114.8L394.1 114.3L394.4 113.4L394.7 112.5L395.0 112.0L395.4 111.4L395.7 110.9L396.0 110.4L396.3 109.4L396.7 109.0L397.0 108.2L397.3 107.4L397.6 106.7L397.9 106.1L398.2 105.6L398.5 104.8L398.8 104.4L399.1 103.6L399.4 102.7L399.7 102.2L400.0 101.6L400.3 100.5L400.6 100.0L400.8 99.3L401.1 99.0L401.4 98.3L401.6 97.3L401.9 97.0L402.1 96.2L402.4 95.2L402.7 94.7L402.9 93.9L403.2 93.8L403.5 93.1L403.9 92.5L404.3 91.6L404.7 90.8L405.2 90.0L405.6 89.2L406.0 88.3L406.4 88.3L406.8 87.6L407.2 87.7L407.5 88.3L407.8 88.1L408.1 88.7L408.4 89.3L408.7 90.6L408.9 91.0L409.2 91.7L409.5 93.1L409.7 93.5L410.0 94.7L410.2 95.3L410.4 96.0L410.7 96.8L410.9 97.2L411.1 98.1L411.3 98.2L411.5 99.5L411.7 100.0L411.9 100.8L412.2 101.1L412.4 102.3L412.6 103.1L412.9 103.2L413.1 104.1L413.3 104.9L413.6 105.8L413.9 106.1L414.1 106.7L414.4 107.5L414.6 108.4L414.9 109.2L415.2 109.6L415.5 110.3L415.8 110.9L416.1 111.6L416.4 112.2L416.7 112.6L417.0 113.5L417.4 114.5L417.8 114.8L418.3 115.8L418.7 116.0L419.2 117.0L419.7 117.7L420.2 118.2L420.7 118.6L421.2 119.1L421.8 119.6L422.4 120.2L423.1 120.0L423.8 120.2L424.5 120.8L425.2 121.1L426.0 121.0L426.7 121.0L427.6 121.3L428.4 121.1L429.1 121.2L429.8 121.2L430.5 121.5L431.2 121.4L432.0 121.3L432.7 121.6L433.5 121.8L434.3 121.4L435.0 121.6L435.8 121.4L436.5 121.8L437.3 121.6L438.0 121.4L438.6 121.4L439.3 121.4L440.1 121.8L440.9 121.9L441.6 121.9L442.2 122.3L442.9 122.5L443.5 123.1L444.1 122.9L444.8 123.7L445.5 123.7L446.1 124.1L446.7 124.3L447.3 124.9L447.9 125.2L448.6 125.4L449.3 125.7L450.2 126.3L450.8 126.6L451.4 126.5L452.0 127.0L452.7 127.4L453.4 127.3L454.0 127.5L454.7 127.7L455.4 128.3L456.1 128.6L456.8 129.0L457.6 129.2L458.3 129.1L459.0 129.3L459.7 129.6L460.5 129.8L461.2 130.4L461.9 130.7L462.6 131.0L463.3 130.7L464.0 131.3L464.7 131.1L465.3 131.4L466.0 131.8L466.7 131.5L467.4 131.6L468.1 132.3L468.8 132.1L469.4 132.3L470.1 132.5L470.8 132.7L471.5 132.4L472.2 132.8L472.9 133.0L473.6 133.1L474.3 133.1L475.0 133.5L475.7 133.9L476.4 133.6L477.1 133.9L477.8 133.7L478.5 134.0L479.2 134.4L480.0 134.2L480.7 134.8L481.4 135.0L482.1 134.6L482.8 135.3L483.6 135.1L484.3 135.5L485.0 135.6L485.7 135.4L486.5 135.9L487.2 136.0L487.9 136.2L488.6 136.0L489.4 136.5L490.1 136.8L490.8 136.7" fill="none" stroke="#404040" stroke-width="1.40" stroke-linejoin="round" stroke-linecap="round" opacity="1.00"/>
<path d="M285.3 146.9L286.0 146.9L286.7 146.9L287.4 146.9L288.1 146.9L288.8 146.9L289.6 146.9L290.3 146.9L291.0 146.9L291.7 146.9L292.4 146.9L293.2 146.9L293.9 146.9L294.6 146.9L295.4 146.9L296.1 146.9L296.8 146.9L297.6 147.0L298.3 147.0L299.0 147.0L299.8 147.0L300.5 147.0L301.3 147.0L302.0 147.0L302.7 147.0L303.5 147.0L304.2 147.0L305.0 147.0L305.7 147.0L306.4 147.0L307.2 147.0L307.9 147.0L308.6 147.0L309.4 147.1L310.1 147.1L310.9 147.1L311.6 147.1L312.3 147.1L313.1 147.1L313.8 147.1L314.5 147.1L315.3 147.1L316.0 147.1L316.7 147.1L317.4 147.1L318.2 147.1L318.9 147.1L319.6 147.1L320.3 147.1L321.0 147.1L321.8 147.1L322.5 147.1L323.2 147.1L323.9 147.1L324.6 147.1L325.3 147.1L326.0 147.1L326.7 147.1L327.4 147.1L328.0 147.1L328.7 147.1L329.4 147.1L330.1 147.1L330.8 147.1L331.4 147.1L332.1 147.1L332.7 147.1L333.4 147.1L334.1 147.1L334.7 147.1L335.3 147.0L336.0 147.0L336.6 147.0L337.2 147.0L337.9 147.0L338.5 147.0L339.1 147.0L339.7 147.0L340.3 146.9L340.9 146.9L341.5 146.9L343.4 146.7L344.2 146.3L344.5 146.0L344.7 145.4L345.0 144.8L345.5 144.4L345.9 144.3L346.3 143.6L346.7 143.0L347.1 142.0L347.5 141.5L347.9 140.6L348.2 139.8L348.5 139.1L348.7 138.6L348.9 138.4L349.2 137.7L349.4 137.0L349.6 136.3L349.8 135.1L350.0 134.5L350.2 134.0L350.4 133.4L350.6 132.7L350.8 132.0L351.0 130.7L351.2 130.4L351.3 129.8L351.5 129.0L351.7 128.1L351.9 127.6L352.0 126.7L352.2 126.6L352.3 125.9L352.5 124.9L352.7 124.1L352.8 123.8L353.0 122.9L353.1 122.4L353.3 121.7L353.4 120.7L353.6 119.9L353.7 119.4L353.9 118.6L354.0 117.7L354.2 117.1L354.3 116.7L354.5 115.5L354.6 114.8L354.8 114.5L354.9 113.5L355.0 113.0L355.2 112.2L355.3 111.4L355.5 111.2L355.6 109.9L355.7 109.4L355.9 108.5L356.0 108.1L356.1 107.1L356.3 106.5L356.4 106.1L356.5 105.1L356.7 104.6L356.8 104.1L356.9 102.9L357.0 102.2L357.2 101.6L357.3 101.3L357.4 100.5L357.5 99.5L357.7 98.8L357.8 98.0L357.9 97.5L358.1 96.4L358.2 96.1L358.3 95.6L358.4 95.0L358.5 94.2L358.7 93.7L358.8 92.4L358.9 91.9L359.0 91.7L359.1 90.9L359.2 89.9L359.3 89.6L359.4 88.7L359.6 88.1L359.7 87.1L359.8 86.3L359.9 85.8L360.0 84.8L360.1 84.3L360.3 84.0L360.4 82.8L360.5 81.9L360.6 81.2L360.8 80.5L360.9 80.2L361.0 79.2L361.1 78.5L361.3 77.7L361.4 77.6L361.5 76.5L361.6 75.7L361.8 74.9L361.9 74.1L362.0 73.5L362.1 73.1L362.3 72.0L362.4 71.2L362.5 70.8L362.6 69.9L362.8 69.7L362.9 68.4L363.0 67.9L363.2 67.4L363.3 66.4L363.4 66.1L363.6 65.1L363.7 64.2L363.9 63.7L364.0 62.8L364.1 62.4L364.3 61.6L364.4 61.5L364.6 60.8L364.7 60.0L364.9 58.7L365.2 58.1L365.4 57.3L365.7 56.6L366.0 56.0L366.3 55.8L366.5 54.8L366.8 54.2L367.2 54.3L367.5 53.5L368.1 53.1L368.7 52.0L369.4 51.9L370.1 51.4L370.7 51.4L371.2 51.6L371.7 51.8L372.2 52.0L372.6 52.8L373.1 54.0L373.5 54.8L373.8 55.4L374.1 55.5L374.3 56.4L374.6 57.1L374.9 57.7L375.2 58.5L375.4 58.9L375.7 59.7L375.9 60.5L376.2 60.9L376.4 62.1L376.7 62.9L376.9 63.0L377.1 64.3L377.3 65.0L377.5 65.4L377.7 65.7L377.9 67.0L378.1 67.2L378.2 68.5L378.4 69.0L378.6 69.3L378.8 70.1L378.9 71.2L379.1 71.8L379.3 72.7L379.5 73.6L379.6 73.8L379.8 74.4L380.0 75.8L380.2 75.8L380.3 77.1L380.5 77.3L380.7 78.5L380.8 79.1L381.0 79.9L381.1 80.4L381.3 81.3L381.5 81.6L381.6 82.6L381.8 83.1L381.9 84.2L382.1 84.8L382.3 85.3L382.4 86.0L382.6 86.3L382.8 87.0L383.0 88.0L383.1 88.6L383.3 89.5L383.5 90.1L383.8 90.5L384.0 91.5L384.2 92.5L384.5 93.0L384.7 93.4L385.0 94.7L385.2 95.3L385.5 95.4L385.7 96.4L386.0 96.9L386.3 97.7L386.8 98.2L387.3 98.9L387.9 99.7L388.5 100.4L389.1 99.9L389.7 99.8L390.2 99.8L390.8 99.4L391.4 98.5L392.0 97.7L392.5 97.3L392.8 96.6L393.2 95.6L393.5 95.5L393.8 94.4L394.1 93.9L394.4 93.6L394.7 92.6L394.9 92.2L395.2 91.0L395.6 90.8L395.9 89.7L396.2 89.0L396.5 88.6L396.8 87.8L397.2 87.3L397.5 86.9L397.9 86.1L398.2 85.0L398.6 84.5L398.9 84.0L399.3 83.3L399.6 82.8L400.0 82.0L400.3 81.0L400.6 80.5L400.9 80.2L401.2 79.2L401.5 78.8L401.7 78.3L402.0 77.3L402.2 76.6L402.5 75.8L402.7 74.9L403.0 74.6L403.2 73.6L403.5 73.3L403.7 72.2L404.0 71.9L404.2 71.3L404.5 70.6L405.0 69.6L405.5 68.5L406.0 68.3L406.5 67.4L407.0 67.3L407.5 66.8L407.9 67.1L408.3 67.6L408.6 68.7L409.0 69.0L409.3 70.4L409.7 71.0L410.0 72.1L410.2 72.5L410.4 73.3L410.6 73.6L410.8 74.5L411.0 75.6L411.2 75.8L411.4 76.8L411.6 77.3L411.8 78.0L412.0 78.6L412.2 79.3L412.4 80.7L412.6 81.3L412.9 81.9L413.1 82.6L413.4 83.4L413.6 83.6L413.9 84.6L414.2 85.2L414.4 86.0L414.7 86.9L415.0 87.5L415.3 88.3L415.6 88.3L416.0 89.3L416.3 90.0L416.6 90.6L417.0 91.1L417.5 91.9L417.9 92.1L418.4 93.1L418.9 93.3L419.5 93.9L420.0 94.6L420.6 94.9L421.2 95.0L421.8 95.3L422.4 95.7L423.1 96.2L423.8 96.7L424.5 96.8L425.2 96.6L426.0 96.8L426.8 97.2L427.6 96.9L428.4 97.1L429.1 96.9L429.8 97.1L430.5 97.5L431.2 97.6L432.0 97.6L432.7 97.5L433.5 97.9L434.3 97.7L435.0 97.5L435.8 97.4L436.5 98.1L437.3 98.2L438.0 98.2L438.7 98.1L439.3 98.0L440.1 98.0L440.9 98.3L441.6 98.5L442.2 99.2L442.9 99.4L443.5 99.6L444.1 99.4L444.8 99.7L445.5 100.0L446.1 100.7L446.7 100.4L447.3 101.0L447.9 101.2L448.6 101.4L449.4 102.0L450.2 101.8L450.8 102.3L451.4 102.3L452.0 102.5L452.6 102.7L453.2 103.2L453.9 103.3L454.5 103.6L455.2 104.5L455.8 104.4L456.5 105.1L457.2 105.2L457.9 105.6L458.5 105.8L459.2 106.3L459.9 106.5L460.6 106.7L461.3 106.8L462.0 107.2L462.6 107.4L463.3 107.5L464.0 107.7L464.7 107.7L465.3 108.3L466.0 108.3L466.7 108.1L467.4 108.4L468.1 109.0L468.8 108.7L469.4 109.0L470.1 109.3L470.8 109.6L471.5 109.3L472.2 109.5L472.9 109.6L473.6 109.5L474.3 110.2L475.0 109.7L475.7 110.5L476.4 110.1L477.1 110.2L477.8 110.8L478.5 110.9L479.2 110.6L479.9 110.9L480.7 111.0L481.4 111.3L482.1 111.0L482.8 111.6L483.6 111.8L484.3 111.7L485.0 111.9L485.7 112.1L486.5 111.8L487.2 112.2L487.9 112.3L488.6 112.2L489.4 112.0L490.1 112.5L490.8 112.8" fill="none" stroke="#f03c3c" stroke-width="1.40" stroke-linejoin="round" stroke-linecap="round" opacity="1.00"/>
<path d="M285.3 119.1L286.0 119.1L286.7 119.1L287.4 119.1L288.2 119.1L288.9 119.1L289.6 119.1L290.3 119.1L291.0 119.1L291.8 119.1L292.5 119.1L293.2 119.1L294.0 119.1L294.7 119.1L295.4 119.1L296.2 119.1L296.9 119.1L297.7 119.1L298.4 119.2L299.1 119.2L299.9 119.2L300.6 119.2L301.4 119.2L302.1 119.2L302.9 119.2L303.6 119.2L304.3 119.2L305.1 119.2L305.8 119.2L306.6 119.2L307.3 119.2L308.1 119.2L308.8 119.2L309.6 119.2L310.3 119.2L311.0 119.2L311.8 119.2L312.5 119.2L313.3 119.3L314.0 119.3L314.7 119.3L315.5 119.3L316.2 119.3L316.9 119.3L317.7 119.3L318.4 119.3L319.1 119.3L319.8 119.3L320.5 119.3L321.3 119.3L322.0 119.3L322.7 119.3L323.4 119.3L324.1 119.3L324.8 119.3L325.5 119.3L326.2 119.3L326.9 119.3L327.6 119.3L328.3 119.3L329.0 119.3L329.6 119.3L330.3 119.3L331.0 119.3L331.7 119.3L332.3 119.2L333.0 119.2L333.6 119.2L334.3 119.2L334.9 119.2L335.6 119.2L336.2 119.2L336.8 119.2L337.5 119.2L338.1 119.2L338.7 119.1L339.3 119.1L339.9 119.1L340.5 119.1L342.3 119.0L343.2 118.8L343.5 118.5L343.6 118.1L344.0 117.6L344.5 117.2L344.9 116.3L345.4 115.9L345.8 115.7L346.2 114.9L346.6 114.4L346.9 113.1L347.3 112.7L347.6 111.9L347.9 111.5L348.1 110.8L348.4 109.8L348.6 109.2L348.9 108.6L349.1 108.3L349.3 107.4L349.5 106.3L349.8 106.0L350.0 104.7L350.2 104.4L350.4 103.4L350.6 102.7L350.7 102.7L350.9 101.6L351.1 100.9L351.3 100.8L351.5 100.0L351.6 98.9L351.8 98.7L352.0 97.7L352.2 97.0L352.3 95.9L352.5 95.6L352.7 94.6L352.8 94.2L353.0 93.5L353.1 92.4L353.3 91.8L353.4 91.0L353.6 90.3L353.7 89.5L353.8 89.0L354.0 88.5L354.1 87.4L354.3 87.1L354.4 86.2L354.6 85.4L354.7 85.1L354.9 84.1L355.0 83.3L355.1 82.6L355.3 82.1L355.4 80.9L355.6 80.8L355.7 79.4L355.9 79.1L356.0 78.5L356.1 77.1L356.3 76.9L356.4 75.9L356.5 75.4L356.6 74.3L356.8 73.7L356.9 73.1L357.0 72.9L357.1 71.7L357.2 71.4L357.3 70.8L357.4 70.2L357.5 69.0L357.7 68.4L357.8 67.8L357.9 67.3L358.0 66.1L358.1 65.8L358.2 65.2L358.3 64.5L358.4 63.3L358.5 63.2L358.7 61.9L358.8 61.4L358.9 60.9L359.0 60.4L359.1 59.3L359.2 59.0L359.4 58.0L359.5 57.2L359.6 56.5L359.8 55.7L359.9 54.9L360.0 54.3L360.2 53.9L360.3 53.4L360.5 52.1L360.6 51.3L360.8 51.2L360.9 50.2L361.1 49.4L361.2 48.5L361.4 48.0L361.6 47.4L361.7 46.4L361.9 45.7L362.1 44.7L362.2 44.6L362.4 43.2L362.6 42.8L362.7 42.3L362.9 41.1L363.1 40.8L363.2 40.3L363.4 39.4L363.6 38.8L363.7 37.7L363.9 37.3L364.0 36.4L364.2 36.3L364.4 35.3L364.5 34.8L364.7 34.5L365.0 33.5L365.2 32.7L365.5 31.6L365.8 30.9L366.0 30.4L366.3 29.6L366.6 28.9L366.9 28.5L367.2 27.8L367.5 27.4L368.0 27.1L368.6 26.5L369.2 25.8L369.8 25.4L370.4 25.2L371.0 25.2L371.7 25.7L372.3 26.6L372.9 27.4L373.5 27.9L373.8 28.7L374.1 29.3L374.4 29.8L374.7 30.4L375.0 31.1L375.2 31.4L375.5 32.3L375.8 32.7L376.1 33.6L376.3 34.5L376.6 35.2L376.9 35.8L377.1 36.8L377.4 37.3L377.6 37.8L377.8 38.1L378.1 39.1L378.3 39.6L378.5 40.6L378.8 41.1L379.0 42.1L379.2 42.6L379.5 43.5L379.7 43.8L379.9 44.8L380.2 45.6L380.4 46.3L380.6 46.7L380.9 47.8L381.1 48.5L381.3 49.1L381.5 50.0L381.7 50.7L381.9 51.1L382.1 51.8L382.3 52.3L382.4 53.5L382.6 54.3L382.8 54.7L383.0 55.6L383.1 56.4L383.3 57.1L383.4 57.5L383.6 58.6L383.8 59.2L383.9 60.0L384.1 60.6L384.3 61.4L384.4 62.3L384.6 62.9L384.8 63.6L384.9 63.8L385.1 64.5L385.3 65.3L385.5 66.1L385.8 66.7L386.1 67.9L386.5 68.7L386.8 69.1L387.1 70.2L387.5 70.7L387.9 71.2L388.2 71.8L388.6 72.4L389.0 72.6L389.6 72.7L390.2 72.3L390.8 72.0L391.4 71.2L392.0 70.6L392.4 70.1L392.8 69.3L393.2 69.2L393.6 67.9L394.0 67.6L394.4 66.9L394.8 66.3L395.2 65.5L395.6 65.4L396.0 64.4L396.4 63.6L396.8 63.5L397.3 62.6L397.7 62.4L398.2 61.7L398.6 61.3L399.1 61.1L399.5 60.4L400.0 59.5L400.4 59.2L400.8 58.5L401.1 57.6L401.4 56.8L401.6 56.5L401.9 55.9L402.1 55.4L402.3 54.8L402.5 53.8L402.7 52.9L402.9 52.6L403.1 51.2L403.3 50.6L403.5 50.2L403.7 49.6L403.8 48.6L404.1 48.3L404.3 47.8L404.5 46.9L404.9 46.1L405.3 45.1L405.7 44.4L406.1 44.2L406.6 43.2L407.0 43.3L407.4 43.2L407.8 43.1L408.2 43.3L408.6 44.5L408.9 44.9L409.3 45.7L409.6 46.5L410.0 47.8L410.2 48.1L410.5 48.6L410.7 49.3L410.9 49.8L411.2 50.8L411.4 51.3L411.6 51.9L411.9 53.0L412.1 53.7L412.3 53.8L412.6 54.9L412.8 55.4L413.1 56.5L413.4 57.1L413.7 57.3L413.9 58.0L414.2 58.6L414.5 59.8L414.8 60.0L415.1 60.9L415.4 61.4L415.7 62.2L416.1 62.8L416.4 63.5L416.7 63.7L417.0 64.7L417.4 65.0L417.7 65.9L418.1 66.4L418.4 67.0L418.8 67.8L419.2 68.3L419.6 68.8L420.1 69.6L420.7 69.9L421.3 69.8L421.9 70.2L422.5 70.6L423.2 71.2L423.9 71.4L424.6 71.3L425.3 71.1L426.1 71.7L426.8 71.6L427.6 71.8L428.4 72.0L429.1 72.1L429.8 72.0L430.5 72.4L431.2 72.0L431.9 72.0L432.7 72.4L433.4 71.9L434.1 72.0L434.9 72.4L435.6 71.9L436.4 72.4L437.1 72.4L437.9 72.3L438.6 72.3L439.3 72.8L440.0 73.1L440.7 72.7L441.4 73.2L442.0 73.5L442.7 73.7L443.4 73.8L444.0 74.0L444.7 74.6L445.4 75.0L446.0 74.8L446.7 75.2L447.4 75.9L448.1 76.2L448.8 76.4L449.5 76.3L450.2 77.1L450.8 77.5L451.5 77.8L452.1 77.8L452.7 77.6L453.4 78.5L454.0 78.3L454.7 78.9L455.3 79.4L456.0 79.5L456.7 79.4L457.3 79.7L458.0 80.4L458.6 80.2L459.3 80.7L460.0 80.9L460.6 80.9L461.3 81.5L462.0 81.3L462.6 81.5L463.3 81.9L464.0 81.9L464.7 82.1L465.5 82.6L466.2 82.8L466.9 83.1L467.6 82.7L468.3 83.0L469.1 83.0L469.8 83.3L470.5 83.4L471.2 83.8L472.0 83.5L472.7 83.3L473.4 83.9L474.2 83.6L474.9 84.0L475.7 84.0L476.4 84.4L477.1 84.2L477.8 84.4L478.5 84.2L479.2 84.5L480.0 84.4L480.7 84.8L481.4 84.7L482.1 84.5L482.8 84.7L483.6 84.8L484.3 85.2L485.0 84.9L485.7 85.3L486.5 85.3L487.2 85.0L487.9 85.5L488.6 85.2L489.4 85.3L490.1 85.7L490.8 85.5" fill="none" stroke="#1f60e0" stroke-width="1.40" stroke-linejoin="round" stroke-linecap="round" opacity="1.00"/>
<line x1="109.8" y1="220.1" x2="109.8" y2="501.8" stroke="#3a3a3a" stroke-width="1.30"/>
<line x1="104.5" y1="497.2" x2="453.4" y2="497.2" stroke="#3a3a3a" stroke-width="1.30"/>
<line x1="104.5" y1="497.2" x2="109.8" y2="497.2" stroke="#3a3a3a" stroke-width="1.20"/>
<text x="100.6" y="502.2" font-size="14.00" text-anchor="end" >0</text>
<line x1="104.5" y1="410.6" x2="109.8" y2="410.6" stroke="#3a3a3a" stroke-width="1.20"/>
<text x="100.6" y="415.6" font-size="14.00" text-anchor="end" >5</text>
<line x1="104.5" y1="323.9" x2="109.8" y2="323.9" stroke="#3a3a3a" stroke-width="1.20"/>
<text x="100.6" y="328.9" font-size="14.00" text-anchor="end" >10</text>
<line x1="104.5" y1="237.2" x2="109.8" y2="237.2" stroke="#3a3a3a" stroke-width="1.20"/>
<text x="100.6" y="242.2" font-size="14.00" text-anchor="end" >15</text>
<line x1="107.2" y1="453.9" x2="109.8" y2="453.9" stroke="#3a3a3a" stroke-width="1.00"/>
<line x1="107.2" y1="367.2" x2="109.8" y2="367.2" stroke="#3a3a3a" stroke-width="1.00"/>
<line x1="107.2" y1="280.6" x2="109.8" y2="280.6" stroke="#3a3a3a" stroke-width="1.00"/>
<line x1="107.2" y1="220.4" x2="109.8" y2="220.4" stroke="#3a3a3a" stroke-width="1.00"/>
<line x1="109.8" y1="497.2" x2="109.8" y2="501.8" stroke="#3a3a3a" stroke-width="1.20"/>
<text x="109.8" y="518.8" font-size="14.00" text-anchor="middle" >0</text>
<line x1="138.4" y1="497.2" x2="138.4" y2="499.2" stroke="#3a3a3a" stroke-width="1.00"/>
<line x1="167.1" y1="497.2" x2="167.1" y2="501.8" stroke="#3a3a3a" stroke-width="1.20"/>
<text x="167.1" y="518.8" font-size="14.00" text-anchor="middle" >10</text>
<line x1="195.7" y1="497.2" x2="195.7" y2="499.2" stroke="#3a3a3a" stroke-width="1.00"/>
<line x1="224.3" y1="497.2" x2="224.3" y2="501.8" stroke="#3a3a3a" stroke-width="1.20"/>
<text x="224.3" y="518.8" font-size="14.00" text-anchor="middle" >20</text>
<line x1="252.9" y1="497.2" x2="252.9" y2="499.2" stroke="#3a3a3a" stroke-width="1.00"/>
<line x1="281.6" y1="497.2" x2="281.6" y2="501.8" stroke="#3a3a3a" stroke-width="1.20"/>
<text x="281.6" y="518.8" font-size="14.00" text-anchor="middle" >30</text>
<line x1="310.2" y1="497.2" x2="310.2" y2="499.2" stroke="#3a3a3a" stroke-width="1.00"/>
<line x1="338.8" y1="497.2" x2="338.8" y2="501.8" stroke="#3a3a3a" stroke-width="1.20"/>
<text x="338.8" y="518.8" font-size="14.00" text-anchor="middle" >40</text>
<line x1="367.4" y1="497.2" x2="367.4" y2="499.2" stroke="#3a3a3a" stroke-width="1.00"/>
<line x1="396.1" y1="497.2" x2="396.1" y2="501.8" stroke="#3a3a3a" stroke-width="1.20"/>
<text x="396.1" y="518.8" font-size="14.00" text-anchor="middle" >50</text>
<line x1="424.7" y1="497.2" x2="424.7" y2="499.2" stroke="#3a3a3a" stroke-width="1.00"/>
<line x1="453.3" y1="497.2" x2="453.3" y2="501.8" stroke="#3a3a3a" stroke-width="1.20"/>
<text x="453.3" y="518.8" font-size="14.00" text-anchor="middle" >60</text>
<text x="28.0" y="226.4" font-size="19.50" text-anchor="start" >C</text>
<text transform="translate(49.4,358.5) rotate(-90)" font-size="20.60" text-anchor="middle">g(r) for all</text>
<text transform="translate(78.0,359.0) rotate(-90)" font-size="20.60" text-anchor="middle">C<tspan font-family="Liberation Serif" font-size="23.48" dx="0.4">α</tspan> to P atoms</text>
<text x="256.0" y="542.0" font-size="23.00" text-anchor="start" >r&#160;&#160;(Å)</text>
<path d="M132.0 497.2L132.2 496.5L132.5 495.8L132.7 495.2L133.0 494.5L133.4 493.7L133.9 493.0L134.5 492.6L135.1 491.7L135.8 491.5L136.6 491.3L137.3 489.7L137.8 489.8L138.0 489.6L138.2 489.4L138.4 486.8L138.5 486.6L138.7 485.3L138.8 486.5L138.9 485.4L139.0 482.8L139.2 484.7L139.3 483.8L139.4 482.2L139.6 481.3L139.8 479.3L140.0 478.3L140.2 479.1L140.5 477.0L140.9 476.7L141.2 476.2L141.6 475.0L142.1 475.7L142.5 475.1L143.0 475.8L143.6 474.4L144.2 474.4L144.8 473.7L145.5 473.9L146.2 473.1L146.9 472.5L147.7 474.3L148.5 474.2L149.3 473.6L150.1 473.1L150.8 471.9L151.6 471.5L152.3 471.4L153.0 470.5L153.7 472.2L154.3 470.9L155.0 471.8L155.6 470.2L156.3 471.4L156.9 470.8L157.5 468.1L158.2 468.3L158.8 469.9L159.5 468.4L160.1 469.4L160.8 467.4L161.5 466.0L162.1 467.2L162.8 467.2L163.4 465.4L164.0 464.6L164.6 465.1L165.2 466.8L166.0 466.4L166.6 465.0L167.2 466.0L167.8 466.3L168.5 466.8L169.1 469.3L169.6 468.1L170.2 469.7L170.8 470.0L171.4 469.8L172.0 471.7L172.6 470.3L173.3 471.9L173.9 470.4L174.5 471.1L175.2 470.4L175.8 470.3L176.5 471.9L177.2 471.1L177.8 469.3L178.5 470.6L179.2 468.3L179.8 468.5L180.4 469.5L181.0 468.5L181.6 466.6L182.2 468.7L182.8 466.2L183.4 465.9L184.0 467.0L184.7 465.5L185.4 465.1L186.2 464.3L186.8 464.2L187.5 465.5L188.2 464.4L188.9 465.3L189.6 464.6L190.3 464.7L191.1 466.1L191.8 464.7L192.6 464.9L193.4 465.6L194.1 463.7L194.9 463.6L195.7 465.7L196.4 465.4L197.2 463.8L197.9 463.7L198.6 465.3L199.3 465.9L200.0 463.9L200.7 466.1L201.4 466.0L202.1 465.4L202.7 465.1L203.4 464.4L204.0 464.5L204.6 467.4L205.2 465.6L205.8 467.2L206.5 466.2L207.2 468.1L207.9 467.7L208.6 467.0L209.4 466.9L210.2 468.6L210.8 466.9L211.4 467.5L212.1 468.5L212.7 469.4L213.4 468.8L214.0 468.0L214.7 469.8L215.4 468.0L216.1 467.6L216.8 468.3L217.5 468.9L218.2 467.9L218.9 468.3L219.6 468.9L220.3 469.5L221.1 468.4L221.8 469.1L222.5 470.6L223.2 470.9L224.0 470.1L224.7 470.2L225.4 470.0L226.1 468.9L226.9 468.7L227.6 468.7L228.3 471.1L229.0 470.6L229.7 471.3L230.4 469.0L231.1 470.6L231.8 470.3L232.6 470.9L233.3 469.9L234.0 471.7L234.7 469.4L235.4 470.6L236.2 471.1L236.9 471.5L237.6 471.1L238.3 471.1L239.1 471.3L239.8 471.6L240.5 470.3L241.2 471.1L241.9 471.6L242.7 471.5L243.4 470.5L244.1 471.4L244.8 471.6L245.6 470.9L246.3 471.1L247.0 470.5L247.7 471.0L248.4 471.1L249.2 469.9L249.9 471.3L250.6 472.1L251.3 471.9L252.1 471.6L252.8 470.9L253.5 471.7L254.3 471.5L255.0 471.2L255.8 472.2L256.5 470.6L257.3 472.1L258.0 470.6L258.8 471.9L259.5 471.7L260.3 471.3L261.0 472.4L261.8 472.0L262.5 472.3L263.3 473.1L264.0 471.7L264.7 471.3L265.4 472.0L266.1 472.9L266.8 471.9L267.5 472.0L268.2 473.5L268.9 473.1L269.5 472.7L270.2 473.7L270.8 472.7L271.7 473.4L272.5 472.6L273.3 473.1L274.0 474.0L274.7 474.3L275.4 474.3L276.0 473.4L276.7 473.9L277.3 473.5L278.0 473.2L278.6 474.0L279.3 474.7L280.0 474.9L280.7 474.7L281.4 475.2L282.0 474.1L282.7 474.0L283.3 474.6L284.0 474.4L284.7 474.3L285.3 474.8L286.0 475.3L286.8 475.2L287.5 475.0L288.3 476.0L289.1 476.4L290.0 475.6L290.6 475.1L291.2 475.1L291.9 476.7L292.5 475.4L293.1 476.6L293.8 476.5L294.4 476.2L295.1 477.1L295.8 476.0L296.4 476.3L297.1 477.0L297.8 476.4L298.5 477.9L299.2 477.0L299.9 477.0L300.6 477.0L301.3 478.1L302.0 477.9L302.7 478.3L303.5 478.5L304.2 478.9L304.9 479.2L305.7 478.9L306.4 478.3L307.2 478.8L308.0 478.5L308.7 478.4L309.5 479.2L310.3 479.6L311.0 478.9L311.6 479.1L312.3 479.3L313.0 479.9L313.7 479.7L314.3 479.9L315.1 480.2L315.8 479.7L316.5 480.3L317.2 480.5L317.9 479.4L318.7 480.7L319.4 480.4L320.1 479.7L320.9 480.2L321.6 480.4L322.4 480.9L323.1 480.2L323.9 480.5L324.6 481.0L325.4 480.9L326.1 481.1L326.9 480.6L327.6 480.9L328.4 480.3L329.1 481.0L329.8 481.2L330.6 481.1L331.3 481.2L332.0 480.6L332.7 481.5L333.4 481.7L334.1 481.7L334.8 481.3L335.5 481.7L336.2 481.2L336.9 481.9L337.5 482.0L338.1 481.5L338.8 481.3L339.4 481.7L340.0 482.0L340.6 482.3L341.6 482.2L342.4 481.9L343.2 483.0L343.9 482.5L344.6 483.5L345.2 483.2L345.8 483.6L346.4 484.4L346.9 484.1L347.5 484.4L348.0 485.1L348.6 485.6L349.3 486.0L350.0 486.1L350.7 486.6L351.3 486.4L352.0 487.0L352.7 486.4L353.3 486.7L354.0 487.2L354.7 487.2L355.4 487.8L356.1 487.9L356.9 488.0L357.6 488.4L358.3 488.3L359.0 488.3L359.8 488.6L360.5 489.1L361.2 489.3L362.0 488.9L362.7 489.6L363.4 489.9L364.1 489.7L364.8 489.9L365.5 489.7L366.2 490.2L366.9 490.3L367.6 490.6L368.3 490.2L369.0 491.2L369.7 490.9L370.4 491.0L371.1 491.5L371.8 491.4L372.5 491.5L373.1 491.8L373.8 491.4L374.5 491.9L375.1 491.9L375.8 492.5L376.5 492.6L377.2 492.2L377.9 492.5L378.6 492.3L379.3 492.6L380.0 493.1L380.7 493.2L381.3 493.0L382.0 492.9L382.7 492.9L383.3 493.3L384.0 493.7L384.6 493.1L385.3 493.7L385.9 493.1L386.6 493.3L387.3 493.4L387.9 493.9L388.6 493.6L389.3 493.7L390.0 494.0L390.8 493.6L391.5 494.2L392.3 493.7L393.0 494.1L393.8 494.0L394.7 494.0L395.5 494.3L396.1 494.3L396.8 494.3L397.4 494.4L398.1 494.5L398.7 494.2L399.4 494.3L400.1 494.7L400.7 494.8L401.4 494.7L402.1 495.0L402.8 494.9L403.5 495.1L404.2 494.7L404.9 495.1L405.6 495.2L406.3 495.4L407.1 494.9L407.8 494.9L408.5 495.5L409.2 495.0L410.0 495.7L410.7 495.6L411.4 495.0L412.2 495.1L412.9 495.6L413.6 495.2L414.4 495.1L415.1 495.8L415.8 495.5L416.6 495.8L417.3 495.3L418.0 495.6L418.8 495.9L419.5 495.3L420.2 495.5L420.9 496.0L421.7 496.2L422.4 496.3L423.1 495.6L423.8 496.0L424.5 496.2L425.2 496.0L425.9 496.2L426.6 495.8L427.4 495.8L428.1 495.8L428.8 495.8L429.5 496.3L430.2 496.3L430.9 496.3L431.6 496.0L432.4 496.1L433.1 496.1L433.8 496.7L434.5 496.8L435.2 496.8L435.9 496.1L436.6 496.1L437.3 496.9L438.1 496.5L438.8 496.8L439.5 496.4L440.2 496.6L440.9 496.6L441.6 496.6L442.3 496.7L443.0 496.3L443.7 496.9L444.5 497.0L445.2 496.5L445.9 496.7L446.6 497.0L447.3 496.7L448.0 496.6L448.7 496.6L449.4 496.9L450.2 496.5L450.9 497.3L451.6 497.2L452.3 497.1L453.0 497.3" fill="none" stroke="#3c3c3c" stroke-width="1.90" stroke-linejoin="round" stroke-linecap="round" opacity="1.00"/>
<path d="M131.2 497.2L131.2 496.5L131.3 495.8L131.3 495.0L131.3 494.3L131.3 493.6L131.4 492.9L131.4 492.1L131.4 491.4L131.4 490.7L131.5 490.0L131.5 489.2L131.5 488.5L131.5 487.8L131.6 487.0L131.6 486.3L131.6 485.6L131.7 484.8L131.7 484.1L131.7 483.4L131.7 482.6L131.8 481.9L131.8 481.2L131.8 480.5L131.8 479.8L131.9 479.0L131.9 478.3L131.9 477.6L131.9 476.9L132.0 476.2L132.0 475.5L132.0 474.8L132.0 474.1L132.1 473.4L132.1 472.7L132.1 472.0L132.1 471.3L132.2 470.7L132.2 470.0L132.2 469.2L132.3 468.4L132.3 467.7L132.3 466.9L132.3 466.1L132.4 465.4L132.4 464.6L132.4 463.8L132.4 463.1L132.4 462.3L132.5 461.6L132.5 460.9L132.5 460.1L132.5 459.4L132.5 458.7L132.6 457.9L132.6 457.2L132.6 456.5L132.7 455.8L132.7 455.2L132.7 454.5L132.7 453.8L132.8 453.2L132.8 452.5L132.9 451.9L132.9 451.2L133.0 450.6L133.0 450.0L133.1 449.0L133.2 447.9L133.4 446.9L133.5 445.9L133.7 445.0L133.8 444.2L134.0 443.6L134.2 443.1L134.3 442.9L134.5 443.0L134.6 443.2L134.7 443.6L134.8 444.0L134.9 444.6L135.1 445.2L135.2 445.9L135.3 446.7L135.4 447.5L135.5 448.3L135.6 449.2L135.7 450.1L135.8 451.0L136.0 451.8L136.1 452.7L136.2 453.5L136.4 454.3L136.5 454.9L136.7 455.5L136.8 456.5L137.0 457.2L137.2 458.5L137.4 459.3L137.6 460.1L137.8 460.9L138.0 461.9L138.2 461.9L138.4 463.1L138.6 463.2L138.8 465.2L139.0 463.9L139.2 466.0L139.4 464.4L139.7 466.1L140.0 464.7L140.4 464.3L140.7 464.7L141.0 461.3L141.4 460.4L141.7 462.0L142.0 460.0L142.3 458.1L142.6 460.0L142.9 459.2L143.1 456.0L143.4 456.2L143.7 454.6L143.9 454.4L144.2 454.6L144.4 452.5L144.7 453.4L144.9 450.7L145.1 450.4L145.3 451.5L145.6 449.6L145.8 448.9L146.0 448.7L146.3 447.6L146.5 446.7L146.8 444.8L147.1 446.0L147.4 445.7L147.7 444.8L148.0 443.0L148.3 441.3L148.6 440.8L148.9 441.5L149.1 441.5L149.3 440.1L149.4 440.9L149.5 441.8L149.7 443.0L149.8 444.6L149.9 444.5L150.0 444.0L150.1 447.3L150.2 447.1L150.3 448.3L150.4 448.3L150.5 449.7L150.7 450.4L150.8 452.2L151.0 450.8L151.9 452.8L153.0 451.0L153.4 452.1L153.7 449.6L154.0 449.6L154.4 449.1L154.7 449.3L155.0 446.8L155.4 447.4L155.8 446.1L156.5 445.7L157.3 445.7L158.0 446.8L158.8 445.3L159.3 447.0L159.9 445.1L160.4 447.9L161.0 446.8L161.5 447.0L162.0 449.2L162.5 450.3L162.9 448.1L163.4 449.4L163.8 451.5L164.3 450.8L164.7 451.1L165.2 451.1L165.6 451.8L166.0 454.2L166.3 456.0L166.7 456.8L167.1 456.0L167.5 455.3L167.9 456.9L168.3 459.0L168.7 459.8L169.1 459.8L169.6 459.0L170.1 460.3L170.7 460.4L171.3 461.0L172.0 459.9L172.7 461.8L173.5 461.5L174.2 459.1L175.0 459.4L175.7 461.0L176.5 459.2L177.2 461.3L177.9 460.1L178.7 460.7L179.4 460.8L180.2 459.5L181.0 459.8L181.7 459.9L182.5 461.4L183.2 461.6L183.9 460.1L184.6 462.7L185.2 461.6L185.8 461.4L186.4 462.4L187.0 464.5L187.5 463.7L188.1 464.4L188.7 465.7L189.2 466.3L189.8 466.1L190.4 465.5L191.1 466.3L191.7 467.4L192.4 467.2L193.1 466.7L193.8 466.1L194.5 466.3L195.2 467.4L196.0 467.0L196.7 465.4L197.4 467.5L198.1 468.2L198.8 468.0L199.5 468.4L200.1 468.6L200.8 467.8L201.4 468.9L201.9 468.1L202.5 467.7L203.0 468.9L203.5 469.2L204.1 471.5L204.7 471.2L205.4 471.1L206.2 471.6L206.8 470.2L207.4 471.6L208.0 472.2L208.7 471.4L209.3 471.0L210.0 471.6L210.7 471.4L211.4 472.5L212.1 471.0L212.8 470.9L213.5 471.6L214.2 472.8L215.0 473.0L215.7 472.7L216.5 473.6L217.2 472.0L218.0 471.0L218.7 472.4L219.5 472.4L220.3 471.7L221.0 473.1L221.6 472.3L222.3 472.1L223.0 472.4L223.7 474.2L224.3 471.6L225.0 472.7L225.7 472.6L226.4 472.4L227.1 473.1L227.8 472.6L228.5 474.6L229.2 473.5L229.9 474.2L230.6 472.8L231.3 473.7L232.1 474.1L232.8 474.8L233.5 473.3L234.3 473.9L235.0 475.1L235.8 475.1L236.5 473.6L237.3 474.4L238.1 475.1L238.9 474.2L239.7 475.0L240.5 475.0L241.2 475.9L241.8 474.8L242.5 475.2L243.1 474.4L243.8 475.4L244.5 474.4L245.2 474.9L245.9 474.6L246.6 474.6L247.3 474.2L248.0 474.5L248.7 475.3L249.5 474.6L250.2 474.2L250.9 476.1L251.6 474.8L252.4 476.5L253.1 475.7L253.8 475.2L254.6 476.4L255.3 476.5L256.0 475.2L256.8 474.8L257.5 476.1L258.2 476.6L259.0 476.1L259.7 476.5L260.4 475.7L261.2 476.2L261.9 475.4L262.6 475.8L263.3 475.8L264.0 475.8L264.7 475.9L265.4 476.9L266.1 475.5L266.8 475.6L267.5 475.8L268.2 477.4L268.8 476.4L269.5 475.5L270.2 477.2L270.8 477.3L271.6 477.2L272.4 476.3L273.2 477.1L273.9 476.3L274.7 476.0L275.4 477.5L276.2 477.5L276.9 476.2L277.6 477.7L278.3 476.0L279.0 476.6L279.7 476.0L280.4 476.4L281.0 476.4L281.7 477.5L282.4 476.7L283.1 476.6L283.8 476.6L284.4 476.9L285.1 478.0L285.8 477.5L286.5 476.6L287.2 477.7L287.9 477.5L288.6 477.3L289.3 477.5L290.0 477.8L290.7 478.1L291.4 477.6L292.1 477.8L292.7 477.6L293.4 477.9L294.1 477.5L294.8 477.5L295.4 477.7L296.1 478.1L296.8 477.4L297.4 478.5L298.1 477.8L298.8 478.4L299.5 478.2L300.1 478.7L300.8 478.2L301.5 477.8L302.2 477.8L302.9 478.1L303.6 478.4L304.3 478.6L305.0 477.4L305.8 477.4L306.5 477.5L307.2 477.5L308.0 477.5L308.8 477.4L309.5 477.9L310.3 477.7L311.0 478.6L311.6 478.6L312.3 479.1L313.0 479.2L313.7 478.9L314.4 479.2L315.1 477.8L315.8 478.2L316.5 479.3L317.2 478.7L318.0 478.3L318.7 479.2L319.4 478.7L320.2 478.9L320.9 478.6L321.7 478.6L322.4 478.4L323.2 479.2L323.9 479.7L324.7 479.8L325.4 479.5L326.2 479.8L326.9 479.1L327.7 479.0L328.4 479.9L329.2 479.6L329.9 479.7L330.6 478.9L331.3 479.2L332.1 479.6L332.8 480.0L333.5 480.1L334.2 480.1L334.9 479.6L335.5 479.7L336.2 480.4L336.9 480.6L337.5 480.0L338.2 479.7L338.8 480.3L339.4 480.2L340.0 480.1L340.6 480.0L342.1 480.3L342.9 480.8L343.5 480.4L343.9 481.2L344.6 482.0L345.2 482.1L345.7 481.9L346.2 482.5L346.7 482.6L347.3 483.7L347.8 484.0L348.4 483.9L349.1 484.7L349.9 485.2L350.7 485.5L351.3 485.5L351.9 485.6L352.6 485.9L353.2 486.7L353.9 486.2L354.6 486.6L355.3 486.7L356.0 486.6L356.7 487.0L357.4 487.0L358.2 487.3L358.9 487.5L359.7 487.7L360.4 488.4L361.2 487.9L361.9 488.1L362.6 488.6L363.4 488.5L364.1 488.8L364.8 489.1L365.5 488.7L366.2 489.4L366.9 489.0L367.6 489.3L368.3 490.0L369.0 490.3L369.7 490.2L370.4 489.9L371.1 490.3L371.8 490.3L372.5 491.0L373.1 490.6L373.8 490.7L374.5 491.3L375.1 491.4L375.8 491.5L376.5 491.5L377.2 492.1L377.9 491.8L378.6 492.3L379.3 492.0L380.0 492.2L380.7 492.2L381.3 492.6L382.0 492.8L382.6 492.4L383.3 492.8L384.0 493.0L384.6 492.9L385.3 493.2L385.9 493.2L386.6 493.4L387.3 493.2L387.9 493.2L388.6 493.1L389.3 493.9L390.0 493.9L390.8 493.6L391.5 494.2L392.3 494.3L393.0 493.7L393.8 494.4L394.7 494.1L395.5 494.0L396.1 494.0L396.8 494.2L397.4 494.0L398.1 494.0L398.7 494.1L399.4 494.3L400.1 494.3L400.7 494.3L401.4 495.0L402.1 494.6L402.8 494.8L403.5 494.9L404.2 495.2L404.9 494.6L405.6 494.7L406.3 495.3L407.1 495.4L407.8 495.5L408.5 495.2L409.2 495.1L410.0 494.9L410.7 495.6L411.4 495.5L412.2 495.4L412.9 495.7L413.6 495.2L414.4 495.5L415.1 495.9L415.8 495.2L416.6 495.7L417.3 495.4L418.0 496.0L418.8 496.0L419.5 495.9L420.2 495.7L420.9 495.4L421.7 495.9L422.4 495.8L423.1 495.8L423.8 495.6L424.5 496.4L425.2 496.1L425.9 496.1L426.6 496.4L427.4 496.5L428.1 496.2L428.8 496.2L429.5 496.5L430.2 496.1L430.9 496.6L431.6 495.9L432.4 496.6L433.1 496.4L433.8 496.5L434.5 496.8L435.2 496.2L435.9 496.4L436.6 496.7L437.3 496.7L438.1 496.5L438.8 496.8L439.5 496.7L440.2 496.9L440.9 496.8L441.6 496.5L442.3 496.5L443.0 496.3L443.7 496.4L444.5 496.3L445.2 497.2L445.9 496.4L446.6 496.9L447.3 496.5L448.0 497.3L448.7 496.9L449.4 496.6L450.2 497.2L450.9 497.3L451.6 497.4L452.3 496.7L453.0 496.9" fill="none" stroke="#f03c3c" stroke-width="2.00" stroke-linejoin="round" stroke-linecap="round" opacity="1.00"/>
<path d="M129.8 497.2L129.8 496.5L129.9 495.8L129.9 495.1L130.0 494.4L130.0 493.7L130.1 493.0L130.1 492.3L130.2 491.6L130.2 490.9L130.3 490.2L130.3 489.5L130.4 488.8L130.4 488.1L130.5 487.4L130.5 486.7L130.6 486.0L130.6 485.3L130.7 484.5L130.7 483.8L130.8 483.1L130.8 482.3L130.9 481.6L130.9 480.8L131.0 480.0L131.0 479.3L131.1 478.7L131.1 478.0L131.2 477.3L131.2 476.6L131.3 475.9L131.3 475.2L131.4 474.4L131.4 473.7L131.4 473.0L131.5 472.2L131.5 471.5L131.6 470.8L131.6 470.0L131.7 469.3L131.7 468.5L131.8 467.8L131.8 467.0L131.9 466.3L131.9 465.6L131.9 464.8L132.0 464.1L132.0 463.4L132.1 462.7L132.1 462.0L132.2 461.3L132.2 460.6L132.3 459.9L132.3 459.2L132.4 458.5L132.4 457.9L132.5 457.2L132.5 456.6L132.6 456.0L132.7 455.1L132.8 454.2L132.9 453.4L133.0 452.7L133.1 451.9L133.2 451.2L133.3 450.6L133.4 449.9L133.5 449.3L133.6 448.7L133.7 448.0L133.8 447.4L133.9 446.7L134.0 446.0L134.1 445.3L134.2 444.6L134.3 443.9L134.4 443.2L134.5 442.5L134.6 441.8L134.7 441.0L134.8 440.3L134.9 439.6L135.0 438.9L135.1 438.2L135.2 437.5L135.3 436.7L135.4 436.0L135.5 435.3L135.6 434.4L135.7 433.5L135.8 432.6L135.9 431.6L136.0 430.6L136.1 429.6L136.2 428.7L136.3 427.8L136.4 426.8L136.5 426.0L136.6 425.3L136.7 424.9L136.8 424.8L136.9 424.2L137.0 424.5L137.1 424.4L137.1 424.7L137.2 425.2L137.3 426.0L137.3 426.3L137.4 426.3L137.5 427.2L137.5 427.7L137.6 429.4L137.6 430.1L137.7 430.9L137.8 431.8L137.8 432.6L137.9 433.8L137.9 434.5L138.0 434.6L138.1 436.5L138.1 436.8L138.2 438.1L138.3 438.6L138.3 439.1L138.4 439.8L138.5 440.6L138.5 441.1L138.6 441.4L138.7 443.6L138.7 444.3L138.8 445.4L138.9 445.6L138.9 446.1L139.0 447.3L139.1 446.6L139.2 448.6L139.2 448.8L139.3 448.9L139.4 449.7L139.5 451.2L139.5 451.2L139.6 452.5L139.7 453.6L139.8 453.7L139.9 453.6L140.0 455.2L140.1 455.1L140.2 455.7L140.4 456.6L140.7 457.9L140.9 457.7L141.2 460.0L141.5 461.5L141.9 460.2L142.2 461.7L143.2 463.1L144.2 460.1L144.5 460.0L144.8 461.5L145.1 461.0L145.4 459.8L145.7 457.6L145.9 457.7L146.2 458.3L146.5 457.6L146.7 456.6L147.0 454.1L147.2 455.4L147.5 453.3L147.7 453.6L147.9 451.2L148.2 453.0L148.4 451.2L148.6 450.8L148.9 448.5L149.1 449.1L149.3 448.2L149.6 447.6L149.8 446.2L150.0 446.7L150.3 444.8L150.5 444.0L150.7 442.9L150.9 443.8L151.2 441.5L151.4 441.2L151.7 440.0L152.0 441.1L152.3 440.2L152.6 439.5L153.0 437.3L153.3 437.7L153.7 436.7L154.1 435.1L154.4 434.1L154.8 436.4L155.2 433.1L155.6 433.0L156.0 432.4L156.4 433.0L156.8 431.1L157.3 432.2L157.9 432.3L158.4 434.3L158.9 432.6L159.5 434.3L160.0 435.5L160.5 437.5L161.0 436.6L161.5 437.1L161.9 438.2L162.5 437.7L163.0 437.5L163.6 439.6L164.0 441.3L164.5 441.3L165.0 440.4L165.5 442.2L165.9 443.3L166.4 442.1L167.0 443.6L167.5 443.4L168.0 443.6L168.5 444.3L169.0 444.5L169.6 445.4L170.1 444.8L170.8 446.3L171.4 445.7L172.1 448.1L172.8 447.9L173.5 446.3L174.3 448.8L175.0 447.3L175.7 448.3L176.5 448.8L177.2 448.3L177.9 448.3L178.7 448.9L179.4 448.2L180.2 450.5L181.0 448.3L181.7 450.6L182.5 448.9L183.2 449.3L183.9 449.7L184.6 448.8L185.3 449.3L186.1 450.1L186.8 450.6L187.4 452.1L188.1 452.6L188.7 450.0L189.4 451.7L190.0 450.7L190.7 453.0L191.4 451.9L192.0 453.9L192.6 453.3L193.3 452.4L194.0 452.5L194.6 453.6L195.1 455.9L195.7 454.1L196.2 455.6L196.8 455.7L197.4 456.1L198.0 457.9L198.6 456.6L199.3 458.5L200.0 458.8L200.6 459.9L201.2 459.0L201.8 460.5L202.4 459.4L203.0 460.2L203.6 460.6L204.3 461.6L205.0 462.1L205.6 460.1L206.3 460.5L206.9 462.0L207.6 463.1L208.3 462.6L208.9 462.3L209.6 464.6L210.2 462.9L210.8 462.6L211.5 462.8L212.1 463.1L212.7 465.5L213.3 464.0L214.0 466.2L214.6 467.0L215.2 467.7L215.9 467.5L216.5 466.7L217.1 467.6L217.7 468.5L218.4 468.4L219.0 467.5L219.7 469.1L220.3 467.5L221.0 468.3L221.7 470.5L222.3 469.2L223.0 468.8L223.7 470.4L224.3 469.6L225.0 468.4L225.7 468.6L226.4 469.4L227.1 469.7L227.9 471.5L228.7 469.7L229.5 471.4L230.4 471.6L231.0 470.5L231.7 472.1L232.4 471.5L233.0 470.9L233.7 470.4L234.4 471.0L235.1 472.2L235.8 471.3L236.5 470.5L237.2 471.0L238.0 471.4L238.7 470.7L239.4 471.8L240.2 470.5L240.9 472.5L241.7 471.0L242.4 470.8L243.2 472.2L243.9 471.5L244.7 473.0L245.4 472.1L246.2 472.3L246.9 473.1L247.7 471.6L248.4 473.0L249.1 472.8L249.9 472.4L250.6 473.7L251.3 471.5L252.1 473.6L252.8 471.9L253.5 473.7L254.3 472.1L255.0 471.9L255.8 473.1L256.5 474.1L257.3 472.6L258.0 473.2L258.8 473.6L259.5 472.8L260.3 473.5L261.0 472.4L261.8 473.5L262.5 474.3L263.2 473.4L264.0 473.2L264.7 472.9L265.4 474.4L266.1 473.8L266.8 475.0L267.5 474.6L268.2 473.3L268.9 475.1L269.5 475.2L270.2 475.0L270.8 475.1L271.7 474.9L272.5 475.0L273.3 475.0L274.0 474.9L274.7 474.2L275.4 474.1L276.0 475.3L276.7 475.1L277.3 474.1L278.0 475.4L278.6 475.4L279.3 475.2L280.0 475.9L280.7 476.1L281.4 475.2L282.0 476.2L282.7 475.6L283.3 475.9L284.0 475.6L284.7 476.8L285.3 475.9L286.0 477.0L286.8 475.9L287.5 476.7L288.3 477.2L289.1 476.9L290.0 476.5L290.6 476.0L291.2 476.9L291.9 476.8L292.5 477.7L293.1 477.7L293.8 478.2L294.4 477.3L295.1 477.4L295.8 477.8L296.4 478.2L297.1 477.2L297.8 477.5L298.5 477.5L299.2 478.0L299.9 478.0L300.6 479.3L301.3 478.1L302.0 479.5L302.7 478.5L303.5 478.5L304.2 479.9L304.9 478.5L305.7 478.7L306.4 478.8L307.2 478.8L308.0 479.4L308.7 479.3L309.5 479.3L310.3 479.1L311.0 480.3L311.6 479.3L312.3 479.7L313.0 480.3L313.7 480.8L314.4 480.5L315.1 480.7L315.8 480.7L316.5 480.9L317.2 481.0L317.9 480.0L318.7 479.9L319.4 480.8L320.1 480.7L320.9 480.7L321.6 481.2L322.4 480.3L323.1 481.1L323.9 480.8L324.6 480.8L325.4 480.6L326.1 480.7L326.9 481.2L327.6 481.2L328.4 481.7L329.1 480.9L329.8 481.5L330.6 480.7L331.3 481.5L332.0 480.9L332.7 481.9L333.4 482.1L334.1 481.2L334.8 482.0L335.5 481.3L336.2 481.5L336.8 481.3L337.5 481.8L338.1 481.5L338.8 482.3L339.4 482.2L340.0 482.1L340.6 482.5L341.6 482.2L342.4 482.5L343.2 482.8L343.9 482.6L344.6 483.9L345.2 483.2L345.8 483.6L346.4 484.6L346.9 484.9L347.5 484.8L348.0 485.1L348.6 485.1L349.3 485.3L350.0 486.1L350.7 486.0L351.3 486.1L352.0 487.1L352.7 486.4L353.3 487.0L354.0 487.5L354.7 487.7L355.4 487.3L356.1 488.1L356.9 488.1L357.6 488.4L358.3 488.9L359.0 488.9L359.8 488.9L360.5 489.2L361.2 489.2L362.0 489.4L362.7 489.8L363.4 489.8L364.1 489.8L364.8 489.6L365.5 490.5L366.2 490.2L366.9 490.4L367.6 490.5L368.3 490.9L369.0 490.9L369.7 491.4L370.4 491.3L371.1 491.4L371.8 491.8L372.5 491.6L373.1 491.8L373.8 492.1L374.5 492.2L375.1 492.3L375.8 492.5L376.5 492.4L377.2 492.5L377.9 492.2L378.6 492.4L379.3 492.6L380.0 492.8L380.7 493.2L381.3 492.6L382.0 492.9L382.7 493.4L383.3 493.2L384.0 493.6L384.6 493.1L385.3 493.7L385.9 493.4L386.6 493.6L387.3 493.2L387.9 493.6L388.6 494.0L389.3 494.0L390.0 493.9L390.8 493.9L391.5 493.6L392.3 494.2L393.0 494.1L393.8 494.4L394.7 494.3L395.5 494.2L396.1 494.7L396.8 494.1L397.4 494.8L398.1 494.1L398.7 494.9L399.4 494.6L400.1 494.6L400.7 495.1L401.4 494.7L402.1 494.8L402.8 494.4L403.5 495.1L404.2 495.0L404.9 494.7L405.6 494.6L406.3 494.9L407.1 495.5L407.8 495.4L408.5 495.1L409.2 494.8L410.0 495.5L410.7 495.0L411.4 495.5L412.2 495.4L412.9 495.8L413.6 495.1L414.4 495.7L415.1 495.7L415.8 495.1L416.6 495.7L417.3 495.5L418.0 495.9L418.8 496.1L419.5 495.9L420.2 495.8L420.9 495.9L421.7 495.6L422.4 495.9L423.1 495.6L423.8 496.2L424.5 495.6L425.2 496.1L425.9 495.8L426.6 496.2L427.4 495.7L428.1 495.7L428.8 496.3L429.5 496.4L430.2 496.6L430.9 496.4L431.6 496.7L432.4 496.0L433.1 496.5L433.8 496.5L434.5 496.1L435.2 496.1L435.9 496.2L436.6 496.5L437.3 496.8L438.1 496.7L438.8 496.6L439.5 496.2L440.2 496.8L440.9 496.6L441.6 496.3L442.3 496.8L443.0 496.4L443.7 496.5L444.5 496.7L445.2 497.0L445.9 496.4L446.6 496.7L447.3 496.6L448.0 497.0L448.7 497.1L449.4 496.7L450.2 497.1L450.9 496.9L451.6 496.7L452.3 496.8L453.0 497.0" fill="none" stroke="#1a5ce6" stroke-width="2.00" stroke-linejoin="round" stroke-linecap="round" opacity="1.00"/>
<path d="M130.4 496.6L130.4 495.9L130.4 495.2L130.4 494.5L130.4 493.8L130.4 493.0L130.5 492.3L130.5 491.6L130.5 490.9L130.5 490.2L130.5 489.5L130.5 488.8L130.5 488.0L130.5 487.3L130.5 486.6L130.5 485.9L130.5 485.1L130.5 484.4L130.6 483.7L130.6 483.0L130.6 482.3L130.6 481.5L130.6 480.8L130.6 480.1L130.6 479.4L130.6 478.6L130.6 477.9L130.6 477.2L130.6 476.5L130.6 475.7L130.7 475.0L130.7 474.3L130.7 473.6L130.7 472.8L130.7 472.1L130.7 471.4L130.7 470.7L130.7 469.9L130.7 469.2L130.7 468.5L130.7 467.8L130.7 467.1L130.8 466.3L130.8 465.6L130.8 464.9L130.8 464.2L130.8 463.5L130.8 462.8L130.8 462.0L130.8 461.3L130.8 460.6L130.8 459.9L130.8 459.2L130.8 458.5L130.9 457.8L130.9 457.1L130.9 456.4L130.9 455.7L130.9 455.0L130.9 454.3L130.9 453.6L130.9 452.9L130.9 452.2L130.9 451.5L130.9 450.8L131.0 450.1L131.0 449.4L131.0 448.7L131.0 448.0L131.0 447.4L131.0 446.7L131.0 446.0L131.0 445.3L131.0 444.7L131.0 444.0L131.0 443.3L131.1 442.6L131.1 442.0L131.1 441.3L131.1 440.7L131.1 440.0L131.1 439.2L131.1 438.5L131.1 437.7L131.2 437.0L131.2 436.2L131.2 435.5L131.2 434.8L131.2 434.0L131.2 433.3L131.2 432.6L131.2 431.9L131.3 431.2L131.3 430.5L131.3 429.8L131.3 429.1L131.3 428.5L131.3 427.8L131.4 427.1L131.4 426.4L131.4 425.8L131.4 425.1L131.4 424.4L131.4 423.7L131.4 423.1L131.5 422.4L131.5 421.8L131.5 421.1L131.5 420.4L131.5 419.8L131.5 419.1L131.6 418.4L131.6 417.8L131.6 417.1L131.6 416.5L131.6 415.8L131.6 415.1L131.6 414.4L131.7 413.8L131.7 413.1L131.7 412.4L131.7 411.7L131.7 411.0L131.7 410.3L131.7 409.6L131.8 408.9L131.8 408.2L131.8 407.5L131.8 406.8L131.8 406.1L131.8 405.3L131.8 404.6L131.8 403.8L131.9 403.1L131.9 402.3L131.9 401.6L131.9 400.8L131.9 400.0L131.9 399.4L131.9 398.7L131.9 398.0L131.9 397.4L131.9 396.7L131.9 396.0L132.0 395.4L132.0 394.7L132.0 394.0L132.0 393.3L132.0 392.6L132.0 392.0L132.0 391.3L132.0 390.6L132.0 389.9L132.0 389.2L132.0 388.5L132.0 387.8L132.0 387.1L132.0 386.4L132.0 385.6L132.0 384.9L132.1 384.2L132.1 383.5L132.1 382.8L132.1 382.1L132.1 381.3L132.1 380.6L132.1 379.9L132.1 379.2L132.1 378.4L132.1 377.7L132.1 377.0L132.1 376.2L132.1 375.5L132.1 374.8L132.1 374.0L132.1 373.3L132.1 372.6L132.1 371.8L132.1 371.1L132.1 370.4L132.2 369.6L132.2 368.9L132.2 368.2L132.2 367.4L132.2 366.7L132.2 366.0L132.2 365.2L132.2 364.5L132.2 363.8L132.2 363.0L132.2 362.3L132.2 361.6L132.2 360.8L132.2 360.1L132.2 359.4L132.2 358.7L132.2 357.9L132.2 357.2L132.2 356.5L132.2 355.8L132.3 355.1L132.3 354.4L132.3 353.6L132.3 352.9L132.3 352.2L132.3 351.5L132.3 350.8L132.3 350.1L132.3 349.4L132.3 348.7L132.3 348.0L132.3 347.4L132.3 346.7L132.3 346.0L132.3 345.3L132.3 344.6L132.4 344.0L132.4 343.3L132.4 342.6L132.4 342.0L132.4 341.3L132.4 340.6L132.4 340.0L132.4 339.2L132.4 338.4L132.4 337.7L132.4 336.9L132.5 336.1L132.5 335.4L132.5 334.6L132.5 333.9L132.5 333.1L132.5 332.4L132.5 331.7L132.5 330.9L132.6 330.2L132.6 329.5L132.6 328.8L132.6 328.1L132.6 327.3L132.6 326.6L132.6 325.9L132.6 325.2L132.7 324.5L132.7 323.8L132.7 323.1L132.7 322.5L132.7 321.8L132.7 321.1L132.8 320.4L132.8 319.7L132.8 319.0L132.8 318.4L132.8 317.7L132.8 317.0L132.8 316.3L132.9 315.7L132.9 315.0L132.9 314.3L132.9 313.6L132.9 313.0L132.9 312.3L132.9 311.6L133.0 310.9L133.0 310.3L133.0 309.6L133.0 308.9L133.0 308.2L133.0 307.6L133.1 306.9L133.1 306.2L133.1 305.5L133.1 304.8L133.1 304.2L133.1 303.5L133.1 302.8L133.2 302.1L133.2 301.4L133.2 300.7L133.2 300.0L133.2 299.3L133.2 298.6L133.2 297.9L133.3 297.2L133.3 296.5L133.3 295.7L133.3 295.0L133.3 294.3L133.3 293.6L133.3 292.9L133.4 292.1L133.4 291.4L133.4 290.7L133.4 290.0L133.4 289.2L133.4 288.5L133.4 287.8L133.4 287.0L133.5 286.3L133.5 285.6L133.5 284.8L133.5 284.1L133.5 283.4L133.5 282.7L133.5 281.9L133.5 281.2L133.6 280.5L133.6 279.8L133.6 279.0L133.6 278.3L133.6 277.6L133.6 276.9L133.6 276.2L133.7 275.4L133.7 274.7L133.7 274.0L133.7 273.3L133.7 272.6L133.7 271.9L133.7 271.2L133.8 270.5L133.8 269.8L133.8 269.1L133.8 268.5L133.8 267.8L133.8 267.1L133.8 266.4L133.9 265.8L133.9 265.1L133.9 264.5L133.9 263.8L133.9 263.2L133.9 262.5L134.0 261.9L134.0 261.2L134.0 260.6L134.0 260.0L134.0 259.1L134.0 258.3L134.1 257.4L134.1 256.6L134.1 255.8L134.1 255.0L134.2 254.2L134.2 253.4L134.2 252.7L134.2 251.9L134.3 251.2L134.3 250.5L134.3 249.8L134.4 249.1L134.4 248.4L134.4 247.7L134.4 247.1L134.5 246.4L134.5 245.7L134.5 245.1L134.6 244.4L134.6 243.8L134.6 243.2L134.7 242.5L134.7 241.9L134.7 241.3L134.8 240.6L134.8 240.0L134.9 239.1L134.9 238.1L135.0 237.0L135.1 236.0L135.2 234.9L135.2 233.9L135.3 233.0L135.4 232.1L135.5 231.3L135.6 230.7L135.6 230.2L135.7 229.8L135.8 229.7L135.8 229.7L135.8 229.9L135.8 230.2L135.9 230.6L135.9 231.0L135.9 231.6L135.9 232.2L135.9 232.9L135.9 233.7L135.9 234.5L135.9 235.4L135.9 236.2L135.9 237.1L135.9 238.1L135.9 239.0L135.9 239.9L135.9 240.8L135.9 241.7L135.9 242.6L135.9 243.4L135.9 244.2L135.9 245.0L135.9 245.7L135.9 246.4L135.9 247.0L135.9 247.7L136.0 248.3L136.0 249.0L136.0 249.6L136.0 250.2L136.0 250.8L136.0 251.5L136.0 252.1L136.0 252.8L136.1 253.4L136.1 254.1L136.1 254.9L136.1 255.6L136.1 256.4L136.1 257.2L136.2 258.1L136.2 259.0L136.2 260.0L136.2 260.6L136.2 261.2L136.2 261.8L136.2 262.4L136.3 263.1L136.3 263.7L136.3 264.4L136.3 265.0L136.3 265.7L136.3 266.3L136.3 267.0L136.4 267.6L136.4 268.3L136.4 269.0L136.4 269.7L136.4 270.4L136.4 271.1L136.4 271.8L136.4 272.5L136.5 273.2L136.5 273.9L136.5 274.6L136.5 275.3L136.5 276.0L136.5 276.7L136.5 277.5L136.6 278.2L136.6 278.9L136.6 279.6L136.6 280.4L136.6 281.1L136.6 281.8L136.7 282.6L136.7 283.3L136.7 284.0L136.7 284.8L136.7 285.5L136.7 286.2L136.7 287.0L136.8 287.7L136.8 288.4L136.8 289.2L136.8 289.9L136.8 290.6L136.8 291.4L136.8 292.1L136.9 292.8L136.9 293.6L136.9 294.3L136.9 295.0L136.9 295.7L136.9 296.4L136.9 297.2L137.0 297.9L137.0 298.6L137.0 299.3L137.0 300.0L137.0 300.7L137.0 301.4L137.0 302.1L137.1 302.8L137.1 303.5L137.1 304.2L137.1 304.9L137.1 305.7L137.1 306.4L137.1 307.1L137.2 307.8L137.2 308.5L137.2 309.2L137.2 309.9L137.2 310.7L137.2 311.4L137.2 312.1L137.2 312.8L137.3 313.5L137.3 314.2L137.3 315.0L137.3 315.7L137.3 316.4L137.3 317.1L137.3 317.8L137.4 318.5L137.4 319.2L137.4 320.0L137.4 320.7L137.4 321.4L137.4 322.1L137.4 322.8L137.5 323.5L137.5 324.2L137.5 324.9L137.5 325.6L137.5 326.3L137.5 327.0L137.5 327.7L137.6 328.4L137.6 329.1L137.6 329.8L137.6 330.5L137.6 331.2L137.6 331.9L137.6 332.6L137.7 333.3L137.7 334.0L137.7 334.6L137.7 335.3L137.7 336.0L137.7 336.7L137.7 337.3L137.8 338.0L137.8 338.7L137.8 339.3L137.8 340.0L137.8 340.8L137.8 341.5L137.9 342.3L137.9 343.1L137.9 343.8L137.9 344.5L137.9 345.3L137.9 346.0L138.0 346.8L138.0 347.5L138.0 348.2L138.0 348.9L138.0 349.7L138.1 350.4L138.1 351.1L138.1 351.8L138.1 352.5L138.1 353.2L138.1 353.9L138.2 354.6L138.2 355.3L138.2 356.0L138.2 356.7L138.2 357.4L138.3 358.1L138.3 358.8L138.3 359.5L138.3 360.2L138.3 360.9L138.4 361.6L138.4 362.3L138.4 363.0L138.4 363.7L138.4 364.4L138.5 365.1L138.5 365.8L138.5 366.5L138.5 367.2L138.5 367.9L138.6 368.6L138.6 369.3L138.6 370.0L138.6 370.7L138.6 371.4L138.7 372.2L138.7 372.9L138.7 373.6L138.7 374.3L138.7 375.1L138.8 375.8L138.8 376.5L138.8 377.3L138.8 378.0L138.8 378.7L138.8 379.5L138.9 380.2L138.9 380.9L138.9 381.7L138.9 382.4L138.9 383.1L139.0 383.9L139.0 384.6L139.0 385.3L139.0 386.0L139.0 386.8L139.1 387.5L139.1 388.2L139.1 388.9L139.1 389.7L139.1 390.4L139.2 391.1L139.2 391.8L139.2 392.5L139.2 393.2L139.2 393.9L139.3 394.6L139.3 395.3L139.3 396.0L139.4 396.7L139.4 397.3L139.4 398.0L139.4 398.7L139.5 399.3L139.5 400.0L139.5 400.8L139.6 401.6L139.6 402.4L139.7 403.2L139.7 403.9L139.8 404.7L139.8 405.4L139.9 406.2L139.9 406.9L140.0 407.7L140.0 408.4L140.1 409.1L140.1 409.9L140.2 410.6L140.2 411.3L140.3 412.0L140.3 412.7L140.4 413.4L140.5 414.1L140.5 414.7L140.6 415.4L140.6 416.1L140.7 416.7L140.8 417.4L140.8 418.1L140.9 418.7L140.9 419.4L141.0 420.0L141.1 420.9L141.2 421.7L141.2 422.6L141.3 423.5L141.4 424.4L141.5 425.3L141.6 426.1L141.7 426.9L141.8 427.7L141.8 428.4L141.9 429.1L142.0 429.7L142.2 430.3L142.3 430.8L142.4 431.2L142.5 431.5L142.7 431.6L143.0 431.1L143.3 430.2L143.7 429.0L144.0 427.9L144.3 427.0" fill="none" stroke="#22a05c" stroke-width="1.30" stroke-linejoin="round" stroke-linecap="round" opacity="1.00"/>
<path d="M141.0 420.0L141.1 420.7L141.2 421.5L141.3 422.4L141.4 423.2L141.4 424.1L141.5 424.9L141.6 425.8L141.7 426.7L141.8 427.5L141.9 428.2L142.0 429.0L142.1 429.6L142.2 430.3L142.3 430.8L142.4 431.3L142.5 431.4L142.7 431.5L143.1 431.5L143.4 430.7L143.7 429.2L144.0 428.6L144.3 426.8L144.4 427.0L144.5 424.9L144.6 424.5L144.8 425.5L144.9 423.5L145.0 422.6L145.1 423.4L145.2 422.2L145.3 420.1L145.4 420.6L145.5 420.2L145.6 417.9L145.7 418.7L145.8 416.2L145.9 416.2L146.0 414.5L146.1 414.2L146.2 416.2L146.3 413.4L146.4 414.8L146.5 412.0L146.5 411.9L146.6 412.1L146.7 410.7L146.8 407.9L146.8 408.9L146.9 408.4L147.0 406.0L147.0 405.0L147.1 407.1L147.1 405.0L147.2 403.2L147.3 403.3L147.3 401.8L147.4 403.1L147.4 401.3L147.5 399.1L147.5 400.9L147.6 397.6L147.6 397.5L147.6 395.9L147.7 397.7L147.7 394.7L147.8 395.5L147.8 393.2L147.9 393.9L147.9 394.0L148.0 392.7L148.0 391.8L148.1 391.2L148.1 390.4L148.2 390.3L148.3 387.6L148.4 388.0L148.4 386.2L148.5 387.5L148.6 386.8L148.7 382.8L148.7 382.2L148.8 383.4L148.9 382.2L149.0 379.5L149.1 381.5L149.2 381.9L149.3 379.8L149.4 379.5L149.5 380.3L149.7 382.0L149.8 380.0L149.9 380.7L150.1 381.0L150.2 383.3L150.4 383.6L150.5 383.8L150.7 385.2L150.9 384.8L151.0 386.8L151.2 390.1L151.3 389.5L151.5 389.2L151.6 392.3L151.8 391.0L151.9 391.5L152.1 391.6L152.2 392.9L152.3 394.0L152.5 395.0L152.6 398.2L152.8 396.8L152.9 397.6L153.0 399.5L153.2 401.3L153.3 399.5L153.5 401.6L153.6 400.4L153.8 401.2L154.0 401.3L154.1 402.3L154.3 401.2L154.4 399.8L154.6 400.4L154.8 398.0L154.9 397.2L155.1 398.5L155.3 396.1L155.4 396.0L155.6 393.4L155.8 394.7L156.0 392.7L156.1 390.6L156.3 392.3L156.5 389.9L156.7 388.7L156.9 387.6L157.1 386.2L157.3 385.6L157.4 386.5L157.6 383.6L157.8 383.2L158.0 383.1L158.2 382.7L158.4 381.4L158.6 382.3L158.9 380.0L159.1 380.1L159.3 380.2L159.5 379.2L159.8 379.9L160.0 380.0L160.3 382.7L160.6 381.3L160.8 384.0L161.1 383.3L161.4 385.7L161.6 386.7L161.9 386.5L162.2 389.4L162.5 389.2L162.8 389.6L163.1 388.5L163.4 390.4L163.8 390.5L164.1 391.9L164.5 394.2L164.8 394.6L165.2 392.3L165.5 395.2L165.9 396.8L166.2 396.1L166.6 395.3L166.9 398.8L167.1 397.9L167.4 400.5L167.6 400.8L167.8 401.3L168.1 402.3L168.3 399.9L168.5 403.3L168.7 402.2L169.0 402.3L169.2 403.9L169.4 405.4L169.6 404.0L169.9 406.4L170.1 408.3L170.3 408.0L170.5 408.8L170.8 408.7L171.0 411.8L171.2 409.8L171.5 412.0L171.7 412.5L172.0 411.0L172.3 415.3L172.6 413.3L172.8 416.8L173.1 417.3L173.4 417.8L173.7 418.3L174.0 417.3L174.3 418.1L174.6 418.4L174.9 421.0L175.3 418.3L175.7 419.2L176.2 422.6L176.8 422.5L177.4 422.4L178.1 423.6L178.7 422.2L179.4 423.5L180.1 422.4L180.8 424.3L181.4 421.8L181.9 423.5L182.4 424.4L182.9 425.7L183.4 424.9L183.9 426.3L184.4 427.9L184.9 426.4L185.4 426.2L185.9 426.1L186.4 429.6L186.9 428.8L187.4 428.9L187.9 429.9L188.5 428.9L189.0 429.8L189.6 430.3L190.2 430.8L190.8 433.4L191.4 431.7L192.0 431.5L192.6 434.7L193.1 434.0L193.7 432.5L194.3 435.2L194.9 435.7L195.5 435.9L196.1 436.7L196.7 435.7L197.4 435.3L198.0 437.5L198.6 437.4L199.3 438.1L200.0 436.8L200.5 437.8L201.1 439.4L201.6 438.7L202.2 439.9L202.7 439.9L203.3 441.4L203.8 440.4L204.4 441.4L205.0 443.1L205.6 441.8L206.2 441.8L206.7 443.9L207.3 442.6L207.9 445.7L208.5 444.1L209.1 446.9L209.6 446.0L210.2 445.2L210.8 447.0L211.3 448.0L211.9 447.8L212.4 448.9L213.0 448.4L213.5 451.0L214.1 448.7L214.6 451.5L215.2 449.2L215.8 451.4L216.3 450.4L216.9 451.1L217.4 453.2L218.0 454.7L218.6 453.1L219.1 453.9L219.7 454.5L220.3 455.4L220.9 454.9L221.6 455.3L222.3 457.3L222.9 456.7L223.6 456.3L224.3 458.1L224.9 459.0L225.6 457.4L226.3 456.3L227.0 457.5L227.7 459.7L228.4 457.6L229.0 458.0L229.7 460.2L230.4 458.2L231.1 460.9L231.7 459.2L232.4 460.0L233.1 460.9L233.8 459.6L234.4 462.0L235.1 461.1L235.8 462.4L236.5 462.7L237.1 460.8L237.8 463.4L238.5 463.6L239.2 462.1L239.8 463.5L240.5 462.6L241.1 463.9L241.8 464.9L242.4 464.0L243.0 464.8L243.7 463.9L244.3 466.5L244.9 466.1L245.5 467.1L246.2 465.1L246.8 467.5L247.4 465.8L248.1 467.6L248.7 466.9L249.3 469.2L250.0 467.2L250.6 468.5L251.3 468.8L251.9 468.8L252.6 468.2L253.3 470.2L253.9 471.4L254.6 469.9L255.3 471.7L256.0 470.3L256.6 470.4L257.3 471.2L258.0 472.8L258.7 472.5L259.3 472.3L260.0 470.9L260.7 472.3L261.4 471.3L262.1 471.6L262.9 472.6L263.6 472.4L264.3 472.2L265.0 473.5L265.7 474.3L266.5 474.8L267.2 475.0L267.9 473.8L268.6 473.3L269.4 475.5L270.1 474.2L270.8 474.2L271.5 475.6L272.2 475.1L273.0 476.3L273.7 475.8L274.4 476.6L275.2 474.8L275.9 476.9L276.6 476.1L277.3 476.7L278.1 475.9L278.8 475.9L279.5 476.2L280.2 476.1L280.9 478.2L281.6 476.4L282.3 476.9L282.9 478.0L283.6 477.2L284.2 477.4L284.8 477.7L285.5 477.9L286.1 477.6L286.8 479.5L287.5 479.5L288.3 478.9L289.1 480.4L290.0 479.8L290.6 479.2L291.2 481.0L291.8 479.5L292.5 480.9L293.1 481.0L293.8 479.4L294.4 481.4L295.1 480.6L295.7 480.9L296.4 482.0L297.1 481.0L297.7 480.7L298.4 480.5L299.1 482.4L299.8 481.6L300.5 482.2L301.3 482.2L302.0 483.0L302.7 483.1L303.4 483.2L304.2 482.4L304.9 483.4L305.7 482.3L306.4 482.0L307.2 483.2L308.0 482.1L308.7 484.0L309.5 482.9L310.3 483.2L311.0 483.0L311.6 483.1L312.3 483.6L313.0 484.2L313.7 482.8L314.3 483.4L315.1 483.3L315.8 484.7L316.5 483.8L317.2 483.9L317.9 484.8L318.7 483.9L319.4 484.0L320.1 484.0L320.9 483.8L321.6 484.7L322.4 484.0L323.1 484.4L323.9 484.6L324.6 485.0L325.4 485.0L326.1 484.6L326.9 485.4L327.6 485.5L328.4 485.5L329.1 485.2L329.8 484.8L330.6 484.7L331.3 485.6L332.0 485.0L332.7 485.5L333.4 485.0L334.1 485.0L334.8 484.6L335.5 485.7L336.2 485.1L336.8 485.5L337.5 485.9L338.1 486.1L338.8 486.4L339.4 486.1L340.0 485.5L340.6 486.6L341.6 485.5L342.4 486.2L343.2 487.1L343.9 487.3L344.6 487.2L345.2 487.8L345.8 487.1L346.3 487.2L346.9 487.8L347.5 488.9L348.0 488.0L348.6 488.6L349.3 489.0L350.0 488.9L350.7 489.9L351.3 489.0L352.0 489.2L352.7 490.4L353.3 489.3L354.0 489.7L354.7 490.0L355.4 490.7L356.2 490.1L356.9 490.5L357.6 490.8L358.3 490.7L359.1 491.0L359.8 490.2L360.5 490.9L361.2 490.4L362.0 491.4L362.7 490.6L363.4 490.7L364.1 491.2L364.8 491.5L365.5 490.9L366.2 491.7L366.9 491.2L367.7 491.5L368.4 491.3L369.2 492.2L369.9 492.4L370.6 492.4L371.3 492.0L372.0 492.0L372.8 492.9L373.5 492.8L374.2 493.1L374.9 492.6L375.6 493.2L376.3 493.1L377.0 493.3L377.8 493.1L378.5 493.4L379.2 493.2L380.0 493.1L380.7 493.3L381.3 492.9L382.0 493.7L382.7 493.4L383.3 493.3L384.0 494.0L384.6 493.8L385.3 493.6L385.9 494.3L386.6 494.4L387.3 493.9L387.9 494.1L388.6 493.6L389.3 494.0L390.0 494.7L390.8 494.3L391.5 494.9L392.3 493.9L393.0 493.9L393.8 494.0L394.7 494.1L395.5 494.9L396.1 495.2L396.8 495.0L397.4 494.8L398.1 494.6L398.7 494.7L399.4 494.5L400.1 494.8L400.7 494.5L401.4 495.3L402.1 495.1L402.8 494.9L403.5 495.5L404.2 494.9L404.9 495.6L405.6 495.5L406.3 495.4L407.1 495.4L407.8 495.5L408.5 495.8L409.2 496.0L410.0 495.5L410.7 496.0L411.4 495.3L412.2 496.1L412.9 496.1L413.6 495.8L414.4 495.3L415.1 496.2L415.8 495.7L416.6 495.7L417.3 496.4L418.0 495.5L418.8 496.1L419.5 495.7L420.2 496.4L420.9 495.7L421.7 495.7L422.4 496.1L423.1 496.1L423.8 496.4L424.5 496.0L425.2 496.0L425.9 496.0L426.6 496.3L427.4 495.9L428.1 496.4L428.8 496.7L429.5 496.6L430.2 496.1L430.9 496.4L431.6 496.0L432.4 496.4L433.1 496.8L433.8 496.0L434.5 496.7L435.2 497.0L435.9 496.3L436.6 496.4L437.3 496.8L438.1 496.3L438.8 496.4L439.5 496.8L440.2 496.7L440.9 496.3L441.6 496.4L442.3 496.7L443.0 497.1L443.7 496.4L444.5 497.0L445.2 496.8L445.9 496.6L446.6 496.7L447.3 497.2L448.0 496.4L448.7 496.9L449.4 496.9L450.2 496.5L450.9 496.8L451.6 496.6L452.3 496.9L453.0 496.5" fill="none" stroke="#22a05c" stroke-width="2.20" stroke-linejoin="round" stroke-linecap="round" opacity="1.00"/>
<line x1="110.4" y1="496.0" x2="130.5" y2="496.0" stroke="#22a05c" stroke-width="1.00"/>
<line x1="281.4" y1="220.3" x2="281.4" y2="359.1" stroke="#b0b0b0" stroke-width="1.00"/>
<line x1="281.4" y1="359.1" x2="453.5" y2="359.1" stroke="#b0b0b0" stroke-width="1.00"/>
<line x1="278.8" y1="359.1" x2="281.4" y2="359.1" stroke="#b0b0b0" stroke-width="1.00"/>
<line x1="280.0" y1="348.0" x2="281.4" y2="348.0" stroke="#b0b0b0" stroke-width="0.90"/>
<line x1="280.0" y1="336.9" x2="281.4" y2="336.9" stroke="#b0b0b0" stroke-width="0.90"/>
<line x1="280.0" y1="325.8" x2="281.4" y2="325.8" stroke="#b0b0b0" stroke-width="0.90"/>
<line x1="280.0" y1="314.7" x2="281.4" y2="314.7" stroke="#b0b0b0" stroke-width="0.90"/>
<line x1="278.8" y1="303.6" x2="281.4" y2="303.6" stroke="#b0b0b0" stroke-width="1.00"/>
<line x1="280.0" y1="292.4" x2="281.4" y2="292.4" stroke="#b0b0b0" stroke-width="0.90"/>
<line x1="280.0" y1="281.3" x2="281.4" y2="281.3" stroke="#b0b0b0" stroke-width="0.90"/>
<line x1="280.0" y1="270.2" x2="281.4" y2="270.2" stroke="#b0b0b0" stroke-width="0.90"/>
<line x1="280.0" y1="259.1" x2="281.4" y2="259.1" stroke="#b0b0b0" stroke-width="0.90"/>
<line x1="278.8" y1="248.0" x2="281.4" y2="248.0" stroke="#b0b0b0" stroke-width="1.00"/>
<line x1="280.0" y1="236.9" x2="281.4" y2="236.9" stroke="#b0b0b0" stroke-width="0.90"/>
<line x1="280.0" y1="225.8" x2="281.4" y2="225.8" stroke="#b0b0b0" stroke-width="0.90"/>
<text x="277.2" y="363.6" font-size="14.00" text-anchor="end" >0.0</text>
<text x="277.2" y="308.1" font-size="14.00" text-anchor="end" >0.5</text>
<text x="277.2" y="252.5" font-size="14.00" text-anchor="end" >1.0</text>
<line x1="281.4" y1="359.1" x2="281.4" y2="361.3" stroke="#b0b0b0" stroke-width="1.00"/>
<text x="281.4" y="374.4" font-size="14.00" text-anchor="middle" >0</text>
<line x1="310.0" y1="359.1" x2="310.0" y2="361.3" stroke="#b0b0b0" stroke-width="1.00"/>
<text x="310.0" y="374.4" font-size="14.00" text-anchor="middle" >10</text>
<line x1="338.7" y1="359.1" x2="338.7" y2="361.3" stroke="#b0b0b0" stroke-width="1.00"/>
<text x="338.7" y="374.4" font-size="14.00" text-anchor="middle" >20</text>
<line x1="367.3" y1="359.1" x2="367.3" y2="361.3" stroke="#b0b0b0" stroke-width="1.00"/>
<text x="367.3" y="374.4" font-size="14.00" text-anchor="middle" >30</text>
<line x1="396.0" y1="359.1" x2="396.0" y2="361.3" stroke="#b0b0b0" stroke-width="1.00"/>
<text x="396.0" y="374.4" font-size="14.00" text-anchor="middle" >40</text>
<line x1="424.6" y1="359.1" x2="424.6" y2="361.3" stroke="#b0b0b0" stroke-width="1.00"/>
<text x="424.6" y="374.4" font-size="14.00" text-anchor="middle" >50</text>
<line x1="453.3" y1="359.1" x2="453.3" y2="361.3" stroke="#b0b0b0" stroke-width="1.00"/>
<text x="453.3" y="374.4" font-size="14.00" text-anchor="middle" >60</text>
<text transform="translate(221.5,289.8) rotate(-90)" font-size="21.30" text-anchor="middle">g(r) for all</text>
<text transform="translate(250.8,289.6) rotate(-90)" font-size="21.30" text-anchor="middle">C<tspan font-family="Liberation Serif" font-size="24.28" dx="0.4">α</tspan> to P atoms</text>
<text x="343.3" y="396.0" font-size="21.50" text-anchor="start" >r&#160;&#160;(Å)</text>
<path d="M333.0 359.1L333.7 359.1L334.4 359.1L335.1 359.1L336.0 358.9L336.6 358.6L337.3 359.3L338.0 358.4L338.8 358.2L339.5 358.8L340.3 358.3L341.1 358.9L341.8 357.9L342.6 358.7L343.3 357.5L344.0 357.6L344.6 357.8L345.2 357.1L345.8 357.1L346.4 356.5L347.0 355.1L347.6 355.9L348.1 355.0L348.7 354.2L349.3 353.6L349.8 354.0L350.4 353.1L350.9 353.1L351.5 352.4L352.0 352.1L352.5 351.1L353.0 350.8L353.4 350.2L353.9 349.2L354.4 349.7L354.8 348.2L355.3 348.4L355.8 348.1L356.2 347.1L356.6 345.8L357.1 346.2L357.5 345.3L357.9 344.0L358.3 343.2L358.6 343.2L359.0 341.8L359.3 342.5L359.6 341.3L359.9 340.7L360.1 339.9L360.4 339.7L360.7 339.4L360.9 337.9L361.2 337.3L361.4 336.9L361.7 335.9L361.9 335.6L362.2 334.8L362.4 334.0L362.6 333.6L362.9 332.7L363.1 331.4L363.3 332.0L363.5 330.3L363.7 329.7L364.0 329.0L364.2 329.0L364.4 328.3L364.6 327.0L364.8 326.2L365.0 325.1L365.2 325.5L365.4 323.8L365.6 323.7L365.7 322.7L365.9 322.0L366.1 321.3L366.3 320.4L366.4 319.5L366.6 319.5L366.8 319.1L367.0 318.2L367.1 316.9L367.3 316.9L367.5 315.3L367.6 315.1L367.8 314.9L367.9 314.4L368.1 313.0L368.2 312.9L368.4 311.7L368.5 311.1L368.7 310.5L368.8 310.4L369.0 309.3L369.2 308.2L369.3 307.9L369.5 307.0L369.6 305.9L369.8 305.8L369.9 305.2L370.1 304.2L370.2 303.9L370.4 302.0L370.5 301.9L370.6 301.4L370.8 300.3L370.9 299.4L371.0 299.5L371.2 298.4L371.3 297.5L371.4 296.5L371.6 297.0L371.7 295.5L371.9 294.4L372.0 293.8L372.1 293.2L372.3 293.4L372.4 291.7L372.5 291.2L372.7 290.2L372.8 290.1L372.9 289.0L373.0 288.5L373.2 288.4L373.3 287.9L373.4 287.1L373.6 285.3L373.7 285.1L373.8 285.0L374.0 283.2L374.1 282.7L374.2 282.4L374.3 281.5L374.5 281.3L374.6 280.5L374.7 279.4L374.8 278.4L375.0 277.6L375.1 276.8L375.2 275.8L375.3 276.0L375.4 274.6L375.5 274.9L375.6 273.9L375.7 272.4L375.8 272.3L375.9 271.7L375.9 270.2L376.0 270.1L376.1 268.8L376.2 269.1L376.3 267.3L376.4 267.4L376.4 267.1L376.5 266.2L376.6 264.6L376.7 264.3L376.8 263.0L376.9 262.5L377.0 262.5L377.0 261.7L377.1 259.9L377.2 259.7L377.3 259.3L377.4 258.0L377.5 258.2L377.6 257.6L377.7 256.5L377.8 255.5L377.9 255.6L378.0 254.4L378.1 253.4L378.3 252.9L378.4 252.1L378.5 252.5L378.7 251.0L379.0 250.3L379.3 249.6L379.6 249.0L379.9 247.1L380.2 246.7L380.6 246.8L380.9 246.1L381.3 245.2L381.6 245.3L382.0 244.5L382.4 244.4L382.9 244.6L383.4 245.5L383.9 246.0L384.3 247.2L384.8 248.7L385.3 248.4L385.7 249.8L386.0 250.8L386.3 251.0L386.6 251.6L386.8 252.6L387.1 252.2L387.4 254.2L387.6 254.5L387.9 255.4L388.1 256.1L388.4 255.8L388.7 256.4L388.9 257.2L389.2 258.3L389.5 259.5L389.8 260.1L390.2 260.1L390.6 261.1L391.1 261.8L391.5 261.8L392.0 263.2L392.5 263.7L393.0 263.9L393.5 264.6L394.1 264.9L394.7 265.0L395.3 264.9L395.9 265.2L396.6 265.5L397.2 265.6L397.9 267.3L398.4 266.8L398.9 266.9L399.4 267.7L399.9 267.9L400.4 268.9L401.0 269.2L401.5 269.5L402.0 270.4L402.6 270.8L403.1 271.2L403.7 272.4L404.3 272.1L404.9 272.9L405.4 273.8L406.0 274.3L406.6 273.9L407.3 273.8L407.9 275.4L408.5 275.2L409.1 275.2L409.8 275.5L410.4 276.1L411.0 276.6L411.6 276.8L412.2 277.1L412.8 278.8L413.4 279.0L414.0 278.5L414.5 279.5L415.1 280.5L415.7 280.6L416.2 280.5L416.8 281.4L417.4 282.0L417.9 283.3L418.4 283.3L418.9 283.7L419.5 284.5L419.9 284.2L420.4 285.7L420.9 286.4L421.3 286.7L421.7 286.9L422.1 287.4L422.5 287.6L422.8 288.4L423.1 289.1L423.4 290.2L423.6 291.2L423.9 291.1L424.2 292.1L424.5 292.9L424.8 293.6L425.2 293.3L425.6 295.2L426.0 295.3L426.4 295.4L426.8 295.8L427.3 297.0L427.7 297.9L428.2 297.6L428.6 298.2L429.1 299.0L429.5 299.1L429.9 300.0L430.3 301.4L430.6 301.7L430.8 302.7L431.1 302.5L431.3 304.0L431.5 304.5L431.7 304.4L431.9 305.5L432.1 306.4L432.3 307.0L432.5 307.7L432.6 308.0L432.8 309.1L433.0 309.6L433.2 310.9L433.4 311.1L433.5 312.6L433.7 312.8L433.9 313.0L434.1 314.0L434.3 314.3L434.5 315.8L434.8 315.5L435.0 316.9L435.3 317.2L435.6 318.6L435.9 318.3L436.2 319.8L436.5 320.5L436.8 320.5L437.1 321.0L437.4 322.0L437.8 323.0L438.1 323.1L438.4 323.3L438.8 324.6L439.1 325.7L439.4 325.4L439.8 327.1L440.1 327.1L440.5 327.2L440.8 327.7L441.2 328.8L441.5 329.6L441.9 329.8L442.3 330.3L442.6 331.5L443.0 331.8L443.4 332.7L443.8 333.3L444.1 334.3L444.5 334.7L444.9 334.8L445.3 335.3L445.7 336.9L446.1 336.3L446.5 337.0L447.0 337.5L447.4 339.2L447.9 339.4L448.4 340.5L448.9 340.6L449.4 340.8L449.9 341.5L450.4 342.4L450.9 342.3L451.4 343.6L451.9 343.6L452.4 343.7L452.9 344.7" fill="none" stroke="#3c3c3c" stroke-width="1.80" stroke-linejoin="round" stroke-linecap="round" opacity="1.00"/>
<path d="M336.0 359.2L336.8 359.3L337.5 358.8L338.2 359.7L339.1 358.6L340.0 359.2L340.6 358.4L341.3 359.3L341.9 358.4L342.6 359.1L343.3 359.1L344.0 359.1L344.8 358.5L345.5 359.0L346.2 359.1L347.0 357.7L347.7 358.1L348.4 358.5L349.1 358.0L349.7 357.4L350.4 357.0L351.1 357.7L351.8 356.3L352.4 357.0L353.1 356.9L353.8 355.6L354.5 355.6L355.2 355.2L355.8 355.2L356.5 354.6L357.1 355.0L357.7 354.6L358.3 353.3L358.8 353.7L359.4 352.1L359.9 351.7L360.4 352.1L360.9 351.8L361.4 351.3L362.0 351.0L362.5 350.3L362.9 348.9L363.4 349.0L363.9 348.7L364.3 347.0L364.8 346.9L365.2 345.8L365.6 345.2L366.0 345.0L366.4 344.6L366.8 344.4L367.1 342.6L367.4 342.5L367.7 342.6L367.9 341.7L368.2 340.7L368.5 339.6L368.7 339.5L368.9 338.4L369.2 338.2L369.4 337.5L369.6 336.5L369.8 336.4L370.0 335.1L370.3 334.5L370.5 334.3L370.7 332.8L370.9 332.0L371.0 331.8L371.2 330.9L371.4 330.8L371.6 329.3L371.8 328.7L372.0 327.6L372.2 327.4L372.4 326.5L372.6 326.0L372.8 325.8L373.0 324.1L373.1 324.7L373.3 323.6L373.5 323.0L373.7 322.0L373.8 321.3L374.0 320.4L374.2 319.6L374.3 318.7L374.5 318.1L374.6 317.3L374.8 316.7L374.9 316.8L375.1 315.9L375.3 315.0L375.4 313.4L375.6 313.0L375.7 312.7L375.9 312.2L376.0 311.1L376.2 310.7L376.4 310.4L376.5 308.8L376.7 308.2L376.9 308.1L377.0 306.7L377.2 306.6L377.4 305.4L377.6 304.2L377.7 304.1L377.9 302.8L378.1 303.1L378.2 302.5L378.4 301.4L378.6 301.2L378.8 299.5L378.9 299.2L379.1 298.1L379.3 297.2L379.5 297.6L379.6 295.8L379.8 296.4L380.0 295.1L380.1 294.7L380.3 293.1L380.5 293.6L380.7 292.8L380.8 291.1L381.0 290.6L381.2 289.8L381.4 289.6L381.6 288.2L381.7 288.5L381.9 287.4L382.1 287.0L382.3 285.6L382.5 285.5L382.7 284.5L382.9 284.1L383.1 283.0L383.2 283.2L383.4 282.3L383.6 281.6L383.8 280.2L384.0 279.3L384.2 278.6L384.4 277.9L384.5 278.4L384.7 276.8L384.9 276.9L385.1 275.3L385.3 275.0L385.5 273.7L385.7 273.0L385.8 272.8L386.0 271.9L386.2 271.6L386.4 269.8L386.6 269.1L386.7 268.1L386.9 267.6L387.2 268.0L387.4 266.8L387.6 266.1L387.9 265.3L388.2 265.4L388.7 264.6L389.3 263.3L390.0 262.7L390.8 262.6L391.5 263.3L392.3 263.1L393.0 262.3L393.7 262.4L394.4 262.7L395.0 263.6L395.7 264.0L396.4 263.6L397.2 264.0L397.9 263.9L398.6 264.9L399.3 264.2L400.0 264.5L400.8 263.3L401.5 263.6L402.3 263.2L403.0 263.4L403.7 262.3L404.3 261.8L405.0 262.2L405.7 262.0L406.2 260.9L406.8 260.1L407.4 259.3L408.1 259.4L408.7 259.8L409.4 258.8L410.0 258.6L410.7 258.6L411.4 257.9L412.1 257.5L412.8 257.9L413.4 258.3L414.1 257.8L414.8 256.6L415.4 256.8L416.1 256.5L416.7 256.0L417.3 255.8L417.8 255.8L418.3 256.9L418.7 257.4L419.2 257.2L419.6 257.7L420.1 258.3L420.5 260.0L420.9 260.8L421.3 260.9L421.6 261.6L422.0 262.4L422.3 262.2L422.6 263.3L422.9 263.8L423.2 265.1L423.5 264.7L423.8 266.4L424.1 266.1L424.4 267.4L424.7 268.5L424.9 268.1L425.2 269.4L425.4 269.4L425.6 270.7L425.9 271.4L426.1 272.7L426.3 272.7L426.5 274.0L426.7 274.5L426.9 275.3L427.0 275.4L427.2 275.7L427.4 277.2L427.6 277.2L427.8 278.6L428.0 278.7L428.1 280.0L428.3 280.9L428.5 281.8L428.7 281.5L428.9 282.2L429.0 283.2L429.2 284.7L429.4 284.4L429.6 285.4L429.7 285.9L429.9 286.2L430.0 287.5L430.2 287.9L430.4 288.8L430.5 289.8L430.7 290.4L430.8 290.5L431.0 291.7L431.2 292.3L431.4 293.3L431.5 293.0L431.7 294.0L431.9 295.2L432.1 295.7L432.2 296.4L432.4 297.1L432.6 298.0L432.7 298.9L432.9 299.9L433.1 300.7L433.2 301.5L433.3 301.7L433.5 301.8L433.6 302.8L433.7 304.2L433.8 304.7L433.9 305.2L434.0 305.3L434.1 306.1L434.3 307.5L434.4 307.9L434.5 308.4L434.6 310.2L434.7 309.9L434.9 311.7L435.0 312.0L435.1 313.2L435.2 313.7L435.4 313.6L435.5 314.4L435.7 316.0L435.8 316.0L436.0 316.8L436.1 317.8L436.3 318.2L436.5 319.2L436.8 319.7L437.0 320.1L437.3 321.5L437.6 321.3L437.9 322.8L438.2 323.6L438.5 323.3L438.8 323.8L439.1 325.7L439.5 325.3L439.8 326.4L440.1 326.7L440.5 327.1L440.8 328.0L441.1 328.3L441.5 330.1L441.8 330.6L442.2 331.2L442.6 331.0L442.9 331.8L443.3 332.2L443.7 333.8L444.1 334.6L444.5 335.2L444.9 335.6L445.3 335.9L445.7 336.3L446.1 336.4L446.5 336.8L446.9 338.3L447.4 339.3L447.8 339.9L448.3 339.7L448.7 340.4L449.2 341.5L449.6 341.2L450.1 342.3L450.6 342.7L451.0 343.0L451.5 343.5L452.0 343.7L452.4 344.3L452.9 345.0" fill="none" stroke="#f03c3c" stroke-width="1.80" stroke-linejoin="round" stroke-linecap="round" opacity="1.00"/>
<path d="M332.0 359.1L332.8 359.1L333.5 359.1L334.3 359.1L335.1 359.1L336.0 359.2L336.7 359.2L337.4 358.4L338.1 358.9L338.8 358.6L339.6 358.7L340.3 357.9L341.1 357.9L341.9 358.2L342.6 357.6L343.4 357.8L344.1 356.7L344.7 356.6L345.4 357.4L346.0 356.6L346.6 356.4L347.2 356.5L347.9 355.4L348.5 354.5L349.1 355.4L349.7 354.6L350.3 354.3L350.9 353.8L351.5 354.0L352.0 352.4L352.6 352.7L353.1 351.5L353.7 351.4L354.2 351.0L354.7 349.9L355.2 349.0L355.7 349.2L356.2 349.1L356.7 348.3L357.1 347.5L357.6 347.2L358.0 345.8L358.5 345.2L358.9 344.8L359.3 345.0L359.7 343.2L360.0 342.4L360.3 341.8L360.6 341.1L360.9 340.9L361.1 340.8L361.4 340.6L361.7 339.1L361.9 338.5L362.2 337.7L362.4 337.1L362.7 337.2L362.9 336.1L363.2 334.9L363.4 333.9L363.6 334.5L363.9 333.6L364.1 333.1L364.3 331.3L364.5 331.2L364.7 331.1L365.0 329.8L365.2 329.7L365.4 327.6L365.6 328.4L365.8 326.1L366.0 326.1L366.1 324.7L366.3 325.5L366.5 324.6L366.7 324.4L366.8 323.4L367.0 323.0L367.2 321.6L367.4 321.7L367.5 320.5L367.7 319.1L367.9 319.5L368.0 317.8L368.2 316.7L368.3 315.8L368.5 315.8L368.7 314.6L368.8 315.3L369.0 314.6L369.1 312.6L369.3 311.7L369.5 311.8L369.6 310.5L369.8 310.5L370.0 310.3L370.1 308.6L370.3 308.3L370.5 308.4L370.7 306.9L370.9 306.0L371.1 306.3L371.3 305.5L371.5 304.9L371.7 303.9L371.9 302.7L372.1 302.6L372.3 302.1L372.5 301.1L372.7 299.7L372.8 299.2L373.0 298.7L373.2 298.7L373.4 297.7L373.6 297.0L373.8 296.8L374.0 294.8L374.1 295.1L374.3 293.8L374.5 293.5L374.6 293.3L374.8 291.5L374.9 292.1L375.1 289.9L375.2 290.0L375.3 289.3L375.5 288.0L375.6 287.9L375.7 287.0L375.8 286.2L376.0 285.9L376.1 283.9L376.2 283.8L376.3 283.8L376.4 281.9L376.5 282.5L376.6 280.5L376.7 280.6L376.8 279.0L376.9 278.7L377.0 278.0L377.1 276.6L377.2 277.0L377.3 275.9L377.5 275.6L377.6 274.7L377.7 274.0L377.8 273.3L377.9 272.3L378.0 272.7L378.2 270.4L378.3 271.0L378.5 270.2L378.6 268.8L378.7 268.6L378.9 267.7L379.0 266.9L379.2 265.7L379.4 265.2L379.5 264.6L379.7 263.9L379.9 264.5L380.1 262.7L380.4 262.1L380.6 261.4L380.9 261.4L381.2 260.1L381.5 259.5L381.8 258.3L382.1 257.7L382.5 256.8L382.9 256.5L383.3 256.1L383.9 256.6L384.5 255.6L385.2 254.5L385.9 254.9L386.7 254.1L387.4 254.8L388.2 254.5L388.9 255.3L389.6 254.3L390.3 255.4L391.0 254.5L391.7 256.0L392.5 255.6L393.2 254.8L393.9 256.5L394.6 255.8L395.3 256.2L395.9 256.1L396.6 257.7L397.2 256.7L397.8 258.2L398.5 258.0L399.1 258.9L399.8 258.6L400.4 258.6L401.1 260.5L401.7 260.5L402.3 260.0L402.9 261.9L403.5 262.2L404.1 261.3L404.7 261.5L405.3 263.0L405.9 262.6L406.5 264.1L407.1 264.1L407.7 265.0L408.3 265.2L408.8 266.0L409.4 266.6L410.0 266.7L410.6 267.1L411.2 267.1L411.7 267.3L412.3 267.7L412.9 269.5L413.4 268.8L414.0 269.7L414.5 270.0L415.0 271.1L415.5 271.5L416.0 272.6L416.5 272.4L416.9 272.9L417.3 274.0L417.8 274.7L418.2 275.6L418.6 275.1L419.0 276.8L419.4 277.6L419.7 278.2L420.1 277.3L420.5 278.4L420.9 279.8L421.3 280.5L421.7 279.7L422.0 280.9L422.4 282.1L422.7 282.7L423.1 282.9L423.4 282.9L423.8 283.9L424.1 283.8L424.5 284.9L424.8 285.7L425.2 287.1L425.5 287.3L425.8 287.6L426.2 288.0L426.5 288.8L426.8 290.0L427.1 290.2L427.4 290.4L427.7 292.1L428.0 292.3L428.3 293.7L428.6 293.5L428.9 294.3L429.2 294.6L429.4 295.6L429.7 296.8L430.0 297.6L430.3 297.7L430.6 298.0L430.8 298.0L431.1 300.1L431.3 300.0L431.6 300.7L431.8 300.8L432.0 301.4L432.2 302.7L432.4 304.4L432.5 304.7L432.7 305.3L432.9 305.9L433.0 305.9L433.2 306.4L433.3 307.9L433.5 307.7L433.6 309.3L433.7 309.9L433.9 310.7L434.0 310.6L434.2 311.2L434.3 312.7L434.5 312.8L434.6 314.4L434.8 314.5L435.0 315.7L435.1 316.6L435.3 317.0L435.5 317.5L435.7 317.6L435.9 318.6L436.2 320.4L436.5 319.8L436.7 320.6L437.0 321.6L437.3 322.4L437.6 323.5L437.9 323.3L438.2 325.2L438.5 324.1L438.8 326.1L439.1 326.4L439.4 327.6L439.7 326.9L440.0 328.5L440.4 329.6L440.7 329.7L441.0 329.3L441.3 331.4L441.7 332.1L442.1 331.2L442.4 333.1L442.8 332.4L443.2 333.0L443.5 334.8L443.9 335.3L444.3 336.3L444.7 336.3L445.1 336.7L445.5 336.8L445.9 337.9L446.2 339.2L446.6 339.2L447.0 340.2L447.4 339.6L447.8 341.2L448.3 341.8L448.7 341.2L449.1 343.2L449.5 342.6L449.9 343.3L450.4 343.6L450.8 345.3L451.2 344.9L451.6 347.0L452.1 345.9L452.5 348.0L452.9 348.5" fill="none" stroke="#22a05c" stroke-width="2.60" stroke-linejoin="round" stroke-linecap="round" opacity="1.00"/>
<path d="M331.0 359.1L331.7 359.1L332.3 359.1L333.1 359.1L334.0 359.0L334.6 358.9L335.3 358.8L336.0 358.9L336.7 358.9L337.5 358.7L338.3 358.3L339.0 359.0L339.8 358.9L340.5 358.3L341.3 358.1L342.0 357.5L342.7 356.9L343.3 357.1L343.9 357.1L344.5 356.0L345.1 356.6L345.7 355.4L346.3 355.0L346.8 354.3L347.4 355.1L348.0 354.3L348.5 354.0L349.1 353.1L349.6 351.8L350.2 351.6L350.7 351.3L351.2 350.3L351.7 350.9L352.1 349.6L352.6 348.8L353.0 349.2L353.5 347.7L353.9 348.2L354.4 347.0L354.8 346.6L355.2 345.7L355.6 345.3L356.0 344.3L356.4 343.5L356.8 344.1L357.2 342.5L357.6 342.6L357.9 341.2L358.3 341.6L358.6 340.9L358.9 340.0L359.2 339.4L359.4 338.6L359.7 338.1L360.0 336.6L360.2 336.5L360.5 336.3L360.7 334.8L361.0 335.1L361.2 334.4L361.5 333.0L361.7 332.3L361.9 331.7L362.2 330.9L362.4 331.1L362.6 329.5L362.8 328.3L363.1 327.7L363.3 327.8L363.5 327.5L363.7 326.1L363.9 325.4L364.1 324.8L364.3 324.4L364.5 323.0L364.7 322.8L364.8 322.0L365.0 321.4L365.2 320.1L365.4 319.4L365.5 318.9L365.7 319.0L365.9 317.5L366.0 317.1L366.2 316.0L366.4 315.0L366.5 314.2L366.7 314.5L366.8 313.8L367.0 312.5L367.1 312.2L367.3 311.5L367.4 311.1L367.6 310.5L367.7 309.0L367.9 309.1L368.0 308.3L368.2 307.1L368.4 306.8L368.5 305.5L368.7 304.7L368.8 303.8L369.0 303.9L369.1 302.2L369.3 301.3L369.5 301.7L369.6 300.9L369.8 299.8L369.9 299.5L370.1 297.7L370.2 297.3L370.4 296.6L370.5 296.1L370.7 295.1L370.8 294.2L370.9 293.9L371.1 294.0L371.2 293.4L371.3 292.4L371.5 291.3L371.6 290.3L371.7 290.6L371.8 289.3L372.0 288.8L372.1 287.1L372.2 286.7L372.3 286.8L372.4 286.1L372.5 285.5L372.6 284.4L372.7 283.5L372.8 283.0L372.9 282.7L372.9 281.2L373.0 280.9L373.1 279.8L373.2 279.8L373.3 278.0L373.4 278.2L373.5 277.8L373.6 275.7L373.7 275.9L373.8 275.3L373.9 274.9L374.0 273.8L374.0 272.7L374.1 272.2L374.2 272.2L374.3 271.5L374.4 269.7L374.5 268.9L374.6 268.2L374.7 267.4L374.8 267.2L374.9 266.1L375.0 266.4L375.1 265.4L375.1 263.9L375.2 263.7L375.3 262.7L375.4 262.2L375.5 261.1L375.6 260.4L375.7 259.7L375.8 259.2L375.9 259.0L376.0 258.1L376.1 256.6L376.2 256.8L376.3 256.3L376.4 255.4L376.5 254.7L376.6 252.9L376.7 252.8L376.8 251.5L376.9 251.7L377.0 250.1L377.1 250.2L377.2 248.8L377.3 248.7L377.4 247.4L377.5 246.3L377.6 246.1L377.7 245.3L377.8 245.4L377.9 243.8L378.0 243.4L378.2 242.8L378.3 242.7L378.4 240.9L378.5 240.9L378.7 240.0L378.8 239.5L379.0 239.1L379.1 237.4L379.3 237.2L379.5 236.2L379.7 235.6L379.9 234.2L380.0 234.6L380.2 234.2L380.4 232.6L380.6 232.0L380.8 232.3L381.0 230.5L381.3 229.5L381.6 228.5L381.9 228.7L382.2 227.8L382.6 226.7L382.9 226.6L383.3 225.6L383.6 226.7L384.0 226.9L384.3 227.6L384.7 228.1L385.1 229.0L385.4 229.6L385.8 230.3L386.1 231.6L386.5 232.1L386.8 233.4L387.1 234.2L387.4 234.7L387.7 235.0L388.1 235.3L388.4 236.1L388.7 236.9L389.0 237.8L389.4 239.1L389.8 238.6L390.1 239.8L390.4 240.4L390.7 241.3L391.0 242.2L391.3 242.7L391.6 243.1L392.0 244.0L392.3 244.5L392.6 245.4L392.9 245.9L393.3 246.5L393.6 246.6L394.0 248.2L394.3 248.2L394.6 249.2L394.9 250.1L395.3 251.0L395.6 251.6L395.9 250.9L396.2 251.9L396.5 252.6L396.9 253.4L397.2 253.8L397.6 255.0L397.9 255.0L398.2 256.0L398.5 257.6L398.9 257.9L399.2 258.2L399.5 258.3L399.8 260.1L400.1 260.4L400.5 260.3L400.8 261.1L401.1 262.1L401.5 262.8L401.9 262.9L402.3 264.5L402.6 264.1L403.0 264.6L403.4 266.0L403.8 265.6L404.2 267.0L404.6 266.9L405.0 268.1L405.3 268.2L405.7 269.0L406.0 270.3L406.3 270.3L406.7 270.8L407.0 271.7L407.4 271.9L407.7 272.3L408.1 273.3L408.4 273.7L408.8 274.2L409.2 275.9L409.6 275.2L410.0 276.9L410.4 277.7L410.8 277.9L411.3 277.5L411.8 278.7L412.3 278.6L412.8 279.9L413.3 280.5L413.9 280.4L414.5 280.5L415.0 281.8L415.6 281.6L416.1 282.4L416.7 283.1L417.2 284.2L417.7 284.0L418.2 284.2L418.6 285.6L419.1 286.2L419.5 286.4L419.9 286.3L420.3 287.1L420.7 288.0L421.0 288.9L421.3 289.0L421.7 290.4L422.0 291.1L422.3 291.8L422.7 292.4L423.0 291.8L423.3 293.2L423.7 293.1L424.0 294.9L424.3 295.3L424.6 295.9L424.9 295.7L425.2 296.1L425.5 297.8L425.8 298.2L426.1 298.9L426.5 299.5L426.8 300.7L427.1 300.7L427.3 301.2L427.6 301.9L427.9 302.5L428.1 303.6L428.4 304.6L428.7 304.1L429.0 304.8L429.2 306.1L429.5 307.0L429.8 307.0L430.1 307.8L430.4 308.2L430.6 308.9L430.9 310.2L431.2 311.2L431.5 311.8L431.8 311.8L432.0 312.4L432.3 314.2L432.6 314.4L432.8 314.8L433.1 315.9L433.4 316.6L433.7 317.0L433.9 317.1L434.2 318.8L434.4 318.7L434.7 319.1L434.9 320.2L435.2 321.1L435.4 322.0L435.7 322.0L435.9 323.4L436.2 323.8L436.4 324.0L436.7 325.6L437.0 326.2L437.3 326.9L437.6 327.3L437.9 327.3L438.2 328.7L438.5 329.5L438.9 329.6L439.3 330.8L439.6 331.5L440.0 331.3L440.4 332.7L440.8 333.3L441.2 333.8L441.7 333.3L442.1 334.4L442.5 335.4L442.9 336.0L443.4 336.8L443.8 337.2L444.2 337.1L444.6 338.7L445.1 338.8L445.5 339.8L445.9 339.4L446.4 341.1L446.9 341.1L447.4 342.0L447.9 342.5L448.4 343.2L448.9 343.0L449.4 343.2L449.9 344.1L450.4 344.3L450.9 345.4L451.4 346.3L451.9 346.1L452.4 346.3L452.9 346.7" fill="none" stroke="#1a5ce6" stroke-width="1.80" stroke-linejoin="round" stroke-linecap="round" opacity="1.00"/>
<line x1="281.4" y1="358.8" x2="338.0" y2="358.8" stroke="#8fc2a2" stroke-width="1.60"/>
</svg></body></html>
